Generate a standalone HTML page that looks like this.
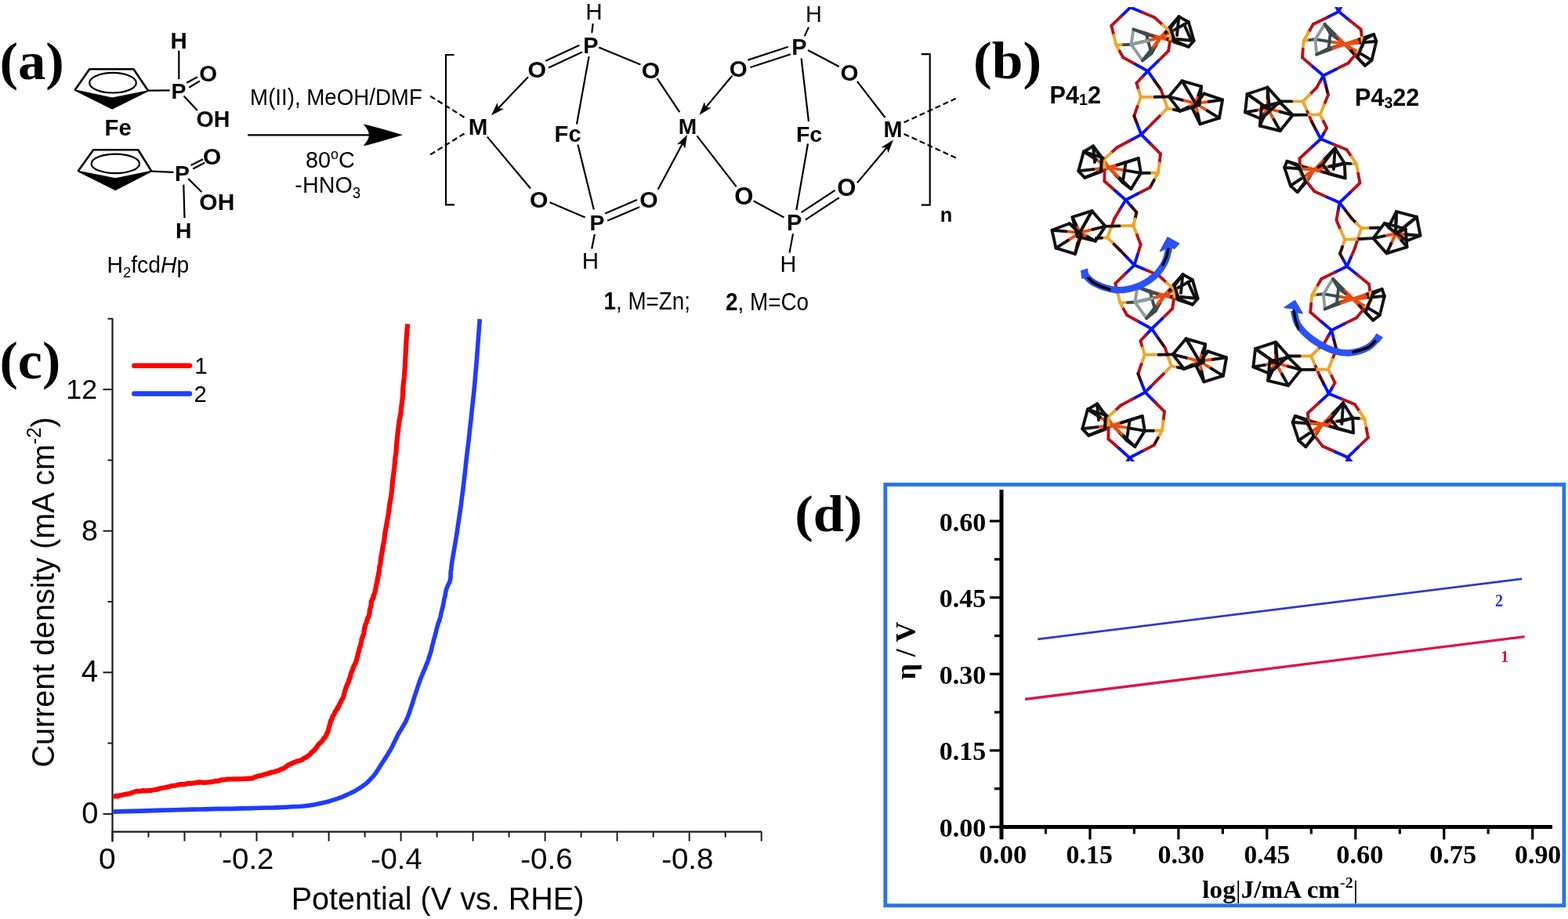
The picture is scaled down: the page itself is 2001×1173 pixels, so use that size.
<!DOCTYPE html>
<html><head><meta charset="utf-8"><style>
html,body{margin:0;padding:0;background:#fff;overflow:hidden;width:2001px;height:1173px;}
svg{display:block;}
</style></head><body>
<svg width="2001" height="1173" viewBox="0 0 2001 1173">
<rect width="2001" height="1173" fill="#fff"/>
<text transform="translate(-0.58,101.28) scale(1.0333,1)" font-size="68.46" fill="#000" font-family="'Liberation Serif', 'Times New Roman', serif" font-weight="bold" font-style="normal"><tspan font-family="'Liberation Serif', 'Times New Roman', serif" font-weight="bold" font-style="normal">(a)</tspan></text>
<path d="M95.5,115.1 L114.2,88.3 L170.5,88.3 L189.2,115.9" stroke="#000" stroke-width="2.6" fill="none" stroke-linejoin="round"/>
<path d="M95.5,115.1 L143.2,138.9 L189.2,115.9 L143.2,125.3 Z" fill="#000" stroke="#000" stroke-width="1.5" stroke-linejoin="round"/>
<ellipse cx="144" cy="105.7" rx="29.8" ry="12.8" fill="none" stroke="#000" stroke-width="2.2"/>
<path d="M99.6,218.6 L119.2,191.3 L176.3,191.3 L193.4,218.6" stroke="#000" stroke-width="2.6" fill="none" stroke-linejoin="round"/>
<path d="M99.6,218.6 L147.3,242.4 L193.4,218.6 L147.3,228 Z" fill="#000" stroke="#000" stroke-width="1.5" stroke-linejoin="round"/>
<ellipse cx="147.3" cy="208.9" rx="30.7" ry="12.3" fill="none" stroke="#000" stroke-width="2.2"/>
<line x1="189.2" y1="115.6" x2="216.7" y2="115.3" stroke="#000" stroke-width="2.2" stroke-linecap="butt"/>
<line x1="228.3" y1="64.6" x2="228.3" y2="101.0" stroke="#000" stroke-width="2.2" stroke-linecap="butt"/>
<line x1="238.2" y1="105.8" x2="251.9" y2="98.3" stroke="#000" stroke-width="2.2" stroke-linecap="butt"/>
<line x1="241.2" y1="111.7" x2="254.9" y2="103.4" stroke="#000" stroke-width="2.2" stroke-linecap="butt"/>
<line x1="234.6" y1="122.5" x2="251.9" y2="141.0" stroke="#000" stroke-width="2.2" stroke-linecap="butt"/>
<line x1="193.4" y1="218.6" x2="221.5" y2="219.8" stroke="#000" stroke-width="2.2" stroke-linecap="butt"/>
<line x1="243.6" y1="210.9" x2="259.0" y2="203.2" stroke="#000" stroke-width="2.2" stroke-linecap="butt"/>
<line x1="246.2" y1="215.6" x2="261.2" y2="207.8" stroke="#000" stroke-width="2.2" stroke-linecap="butt"/>
<line x1="240.2" y1="228.0" x2="257.3" y2="245.0" stroke="#000" stroke-width="2.2" stroke-linecap="butt"/>
<line x1="234.3" y1="235.6" x2="235.5" y2="278.2" stroke="#000" stroke-width="2.2" stroke-linecap="butt"/>
<text transform="translate(217.46,61.60)" font-size="29.42" fill="#000" font-family="'Liberation Sans', Arial, sans-serif" font-weight="bold" font-style="normal"><tspan font-family="'Liberation Sans', Arial, sans-serif" font-weight="bold" font-style="normal">H</tspan></text>
<text transform="translate(218.41,126.00)" font-size="28.41" fill="#000" font-family="'Liberation Sans', Arial, sans-serif" font-weight="bold" font-style="normal"><tspan font-family="'Liberation Sans', Arial, sans-serif" font-weight="bold" font-style="normal">P</tspan></text>
<text transform="translate(254.19,104.31)" font-size="29.44" fill="#000" font-family="'Liberation Sans', Arial, sans-serif" font-weight="bold" font-style="normal"><tspan font-family="'Liberation Sans', Arial, sans-serif" font-weight="bold" font-style="normal">O</tspan></text>
<text transform="translate(250.51,162.21)" font-size="28.59" fill="#000" font-family="'Liberation Sans', Arial, sans-serif" font-weight="bold" font-style="normal"><tspan font-family="'Liberation Sans', Arial, sans-serif" font-weight="bold" font-style="normal">OH</tspan></text>
<text transform="translate(133.50,172.71)" font-size="29.29" fill="#000" font-family="'Liberation Sans', Arial, sans-serif" font-weight="bold" font-style="normal"><tspan font-family="'Liberation Sans', Arial, sans-serif" font-weight="bold" font-style="normal">Fe</tspan></text>
<text transform="translate(258.88,209.70)" font-size="29.86" fill="#000" font-family="'Liberation Sans', Arial, sans-serif" font-weight="bold" font-style="normal"><tspan font-family="'Liberation Sans', Arial, sans-serif" font-weight="bold" font-style="normal">O</tspan></text>
<text transform="translate(223.01,230.50)" font-size="28.41" fill="#000" font-family="'Liberation Sans', Arial, sans-serif" font-weight="bold" font-style="normal"><tspan font-family="'Liberation Sans', Arial, sans-serif" font-weight="bold" font-style="normal">P</tspan></text>
<text transform="translate(254.33,267.70)" font-size="30.00" fill="#000" font-family="'Liberation Sans', Arial, sans-serif" font-weight="bold" font-style="normal"><tspan font-family="'Liberation Sans', Arial, sans-serif" font-weight="bold" font-style="normal">OH</tspan></text>
<text transform="translate(224.07,303.80)" font-size="28.41" fill="#000" font-family="'Liberation Sans', Arial, sans-serif" font-weight="bold" font-style="normal"><tspan font-family="'Liberation Sans', Arial, sans-serif" font-weight="bold" font-style="normal">H</tspan></text>
<text transform="translate(136.53,348.00) scale(0.9641,1)" font-size="29.42" fill="#000" font-family="'Liberation Sans', Arial, sans-serif" font-weight="normal" font-style="normal"><tspan font-family="'Liberation Sans', Arial, sans-serif" font-weight="normal" font-style="normal">H</tspan><tspan font-family="'Liberation Sans', Arial, sans-serif" font-weight="normal" font-style="normal" font-size="19.12" dy="6.47">2</tspan><tspan font-family="'Liberation Sans', Arial, sans-serif" font-weight="normal" font-style="normal" dy="-6.47">fcd</tspan><tspan font-family="'Liberation Sans', Arial, sans-serif" font-weight="normal" font-style="italic">H</tspan><tspan font-family="'Liberation Sans', Arial, sans-serif" font-weight="normal" font-style="normal">p</tspan></text>
<line x1="316.2" y1="172.3" x2="472.0" y2="172.3" stroke="#000" stroke-width="2.2" />
<path d="M514,172.3 C497,167.5 478,161.5 463.6,158.6 C468.5,164 470.8,168 470.8,172.3 C470.8,176.6 468.5,180.6 463.6,186.3 C478,183 497,177 514,172.3 Z" fill="#000"/>
<text transform="translate(319.09,134.30) scale(0.9358,1)" font-size="29.57" fill="#000" font-family="'Liberation Sans', Arial, sans-serif" font-weight="normal" font-style="normal"><tspan font-family="'Liberation Sans', Arial, sans-serif" font-weight="normal" font-style="normal">M(II), MeOH/DMF</tspan></text>
<text transform="translate(389.90,214.40) scale(0.9672,1)" font-size="29.86" fill="#000" font-family="'Liberation Sans', Arial, sans-serif" font-weight="normal" font-style="normal"><tspan font-family="'Liberation Sans', Arial, sans-serif" font-weight="normal" font-style="normal">80</tspan><tspan font-family="'Liberation Sans', Arial, sans-serif" font-weight="normal" font-style="normal" font-size="18.51" dy="-11.35">o</tspan><tspan font-family="'Liberation Sans', Arial, sans-serif" font-weight="normal" font-style="normal" dy="11.35">C</tspan></text>
<text transform="translate(376.31,246.00) scale(0.9678,1)" font-size="29.71" fill="#000" font-family="'Liberation Sans', Arial, sans-serif" font-weight="normal" font-style="normal"><tspan font-family="'Liberation Sans', Arial, sans-serif" font-weight="normal" font-style="normal">-HNO</tspan><tspan font-family="'Liberation Sans', Arial, sans-serif" font-weight="normal" font-style="normal" font-size="19.31" dy="6.54">3</tspan></text>
<path d="M579.5,70.0 L569.0,70.0 L569.0,261.3 L580.0,261.3" stroke="#000" stroke-width="2.2" fill="none" />
<path d="M1175.7,69.2 L1186.7,69.2 L1186.7,261.7 L1175.7,261.7" stroke="#000" stroke-width="2.2" fill="none" />
<line x1="549.2" y1="122.7" x2="595.2" y2="151.4" stroke="#000" stroke-width="2.2" stroke-dasharray="7,4"/>
<line x1="549.2" y1="197.4" x2="595.2" y2="168.8" stroke="#000" stroke-width="2.2" stroke-dasharray="7,4"/>
<line x1="1153.6" y1="156.3" x2="1219.7" y2="125.8" stroke="#000" stroke-width="2.2" stroke-dasharray="7,4"/>
<line x1="1153.6" y1="171.0" x2="1219.7" y2="201.4" stroke="#000" stroke-width="2.2" stroke-dasharray="7,4"/>
<line x1="756.7" y1="30.2" x2="755.3" y2="41.9" stroke="#000" stroke-width="2.2" stroke-linecap="butt"/>
<line x1="696.3" y1="77.7" x2="739.3" y2="57.8" stroke="#000" stroke-width="2.2" stroke-linecap="butt"/>
<line x1="699.9" y1="86.4" x2="742.9" y2="66.5" stroke="#000" stroke-width="2.2" stroke-linecap="butt"/>
<line x1="764.3" y1="60.4" x2="817.5" y2="82.4" stroke="#000" stroke-width="2.2" stroke-linecap="butt"/>
<line x1="674.0" y1="98.2" x2="634.6" y2="139.4" stroke="#000" stroke-width="2.2" stroke-linecap="butt"/>
<path d="M627.0,147.3 L634.6,131.0 L636.0,137.9 L642.9,139.0 Z" fill="#000"/>
<line x1="751.6" y1="72.1" x2="736.0" y2="158.5" stroke="#000" stroke-width="2.2" stroke-linecap="butt"/>
<line x1="737.4" y1="184.5" x2="757.8" y2="267.4" stroke="#000" stroke-width="2.2" stroke-linecap="butt"/>
<line x1="838.6" y1="100.2" x2="867.3" y2="143.2" stroke="#000" stroke-width="2.2" stroke-linecap="butt"/>
<line x1="621.8" y1="174.6" x2="677.0" y2="240.5" stroke="#000" stroke-width="2.2" stroke-linecap="butt"/>
<line x1="701.6" y1="258.2" x2="746.6" y2="277.6" stroke="#000" stroke-width="2.2" stroke-linecap="butt"/>
<line x1="772.2" y1="272.5" x2="813.0" y2="255.1" stroke="#000" stroke-width="2.2" stroke-linecap="butt"/>
<line x1="775.2" y1="281.7" x2="816.1" y2="264.3" stroke="#000" stroke-width="2.2" stroke-linecap="butt"/>
<line x1="839.7" y1="241.8" x2="871.8" y2="181.7" stroke="#000" stroke-width="2.2" stroke-linecap="butt"/>
<path d="M877.0,172.0 L874.1,189.7 L870.9,183.5 L863.9,184.3 Z" fill="#000"/>
<line x1="758.9" y1="299.0" x2="755.2" y2="317.5" stroke="#000" stroke-width="2.2" stroke-linecap="butt"/>
<line x1="1032.0" y1="34.6" x2="1026.7" y2="46.1" stroke="#000" stroke-width="2.2" stroke-linecap="butt"/>
<line x1="954.4" y1="76.6" x2="1005.8" y2="59.8" stroke="#000" stroke-width="2.2" stroke-linecap="butt"/>
<line x1="957.5" y1="86.0" x2="1008.9" y2="69.2" stroke="#000" stroke-width="2.2" stroke-linecap="butt"/>
<line x1="934.5" y1="96.5" x2="899.6" y2="138.4" stroke="#000" stroke-width="2.2" stroke-linecap="butt"/>
<path d="M892.5,146.8 L898.9,130.0 L900.8,136.8 L907.8,137.5 Z" fill="#000"/>
<line x1="1031.0" y1="64.0" x2="1070.8" y2="85.0" stroke="#000" stroke-width="2.2" stroke-linecap="butt"/>
<line x1="1093.9" y1="103.8" x2="1129.5" y2="150.0" stroke="#000" stroke-width="2.2" stroke-linecap="butt"/>
<line x1="1022.6" y1="74.5" x2="1032.0" y2="155.2" stroke="#000" stroke-width="2.2" stroke-linecap="butt"/>
<line x1="1031.0" y1="183.5" x2="1016.3" y2="268.0" stroke="#000" stroke-width="2.2" stroke-linecap="butt"/>
<line x1="889.4" y1="173.3" x2="939.7" y2="238.3" stroke="#000" stroke-width="2.2" stroke-linecap="butt"/>
<line x1="961.7" y1="256.5" x2="1000.5" y2="277.5" stroke="#000" stroke-width="2.2" stroke-linecap="butt"/>
<line x1="1022.6" y1="271.2" x2="1065.6" y2="242.9" stroke="#000" stroke-width="2.2" stroke-linecap="butt"/>
<line x1="1027.8" y1="280.6" x2="1070.8" y2="252.3" stroke="#000" stroke-width="2.2" stroke-linecap="butt"/>
<line x1="1093.9" y1="233.4" x2="1132.9" y2="187.0" stroke="#000" stroke-width="2.2" stroke-linecap="butt"/>
<path d="M1140.0,178.6 L1133.5,195.3 L1131.6,188.5 L1124.6,187.9 Z" fill="#000"/>
<line x1="1012.0" y1="298.4" x2="1007.5" y2="322.6" stroke="#000" stroke-width="2.2" stroke-linecap="butt"/>
<text transform="translate(747.25,25.10)" font-size="29.71" fill="#000" font-family="'Liberation Sans', Arial, sans-serif" font-weight="normal" font-style="normal"><tspan font-family="'Liberation Sans', Arial, sans-serif" font-weight="normal" font-style="normal">H</tspan></text>
<text transform="translate(744.31,67.50)" font-size="28.84" fill="#000" font-family="'Liberation Sans', Arial, sans-serif" font-weight="bold" font-style="normal"><tspan font-family="'Liberation Sans', Arial, sans-serif" font-weight="bold" font-style="normal">P</tspan></text>
<text transform="translate(673.52,98.90)" font-size="30.28" fill="#000" font-family="'Liberation Sans', Arial, sans-serif" font-weight="bold" font-style="normal"><tspan font-family="'Liberation Sans', Arial, sans-serif" font-weight="bold" font-style="normal">O</tspan></text>
<text transform="translate(818.77,99.90)" font-size="30.14" fill="#000" font-family="'Liberation Sans', Arial, sans-serif" font-weight="bold" font-style="normal"><tspan font-family="'Liberation Sans', Arial, sans-serif" font-weight="bold" font-style="normal">O</tspan></text>
<text transform="translate(597.78,171.80)" font-size="29.57" fill="#000" font-family="'Liberation Sans', Arial, sans-serif" font-weight="bold" font-style="normal"><tspan font-family="'Liberation Sans', Arial, sans-serif" font-weight="bold" font-style="normal">M</tspan></text>
<text transform="translate(707.61,180.71)" font-size="29.14" fill="#000" font-family="'Liberation Sans', Arial, sans-serif" font-weight="bold" font-style="normal"><tspan font-family="'Liberation Sans', Arial, sans-serif" font-weight="bold" font-style="normal">Fc</tspan></text>
<text transform="translate(865.83,170.80)" font-size="28.12" fill="#000" font-family="'Liberation Sans', Arial, sans-serif" font-weight="bold" font-style="normal"><tspan font-family="'Liberation Sans', Arial, sans-serif" font-weight="bold" font-style="normal">M</tspan></text>
<text transform="translate(676.07,265.00)" font-size="30.14" fill="#000" font-family="'Liberation Sans', Arial, sans-serif" font-weight="bold" font-style="normal"><tspan font-family="'Liberation Sans', Arial, sans-serif" font-weight="bold" font-style="normal">O</tspan></text>
<text transform="translate(752.51,294.00)" font-size="28.26" fill="#000" font-family="'Liberation Sans', Arial, sans-serif" font-weight="bold" font-style="normal"><tspan font-family="'Liberation Sans', Arial, sans-serif" font-weight="bold" font-style="normal">P</tspan></text>
<text transform="translate(816.22,265.00)" font-size="30.14" fill="#000" font-family="'Liberation Sans', Arial, sans-serif" font-weight="bold" font-style="normal"><tspan font-family="'Liberation Sans', Arial, sans-serif" font-weight="bold" font-style="normal">O</tspan></text>
<text transform="translate(742.66,343.00)" font-size="29.57" fill="#000" font-family="'Liberation Sans', Arial, sans-serif" font-weight="normal" font-style="normal"><tspan font-family="'Liberation Sans', Arial, sans-serif" font-weight="normal" font-style="normal">H</tspan></text>
<text transform="translate(1027.92,28.30)" font-size="28.84" fill="#000" font-family="'Liberation Sans', Arial, sans-serif" font-weight="normal" font-style="normal"><tspan font-family="'Liberation Sans', Arial, sans-serif" font-weight="normal" font-style="normal">H</tspan></text>
<text transform="translate(1010.26,70.30)" font-size="28.99" fill="#000" font-family="'Liberation Sans', Arial, sans-serif" font-weight="bold" font-style="normal"><tspan font-family="'Liberation Sans', Arial, sans-serif" font-weight="bold" font-style="normal">P</tspan></text>
<text transform="translate(930.84,98.30)" font-size="29.58" fill="#000" font-family="'Liberation Sans', Arial, sans-serif" font-weight="bold" font-style="normal"><tspan font-family="'Liberation Sans', Arial, sans-serif" font-weight="bold" font-style="normal">O</tspan></text>
<text transform="translate(1072.44,102.50)" font-size="29.58" fill="#000" font-family="'Liberation Sans', Arial, sans-serif" font-weight="bold" font-style="normal"><tspan font-family="'Liberation Sans', Arial, sans-serif" font-weight="bold" font-style="normal">O</tspan></text>
<text transform="translate(1127.53,175.10)" font-size="28.84" fill="#000" font-family="'Liberation Sans', Arial, sans-serif" font-weight="bold" font-style="normal"><tspan font-family="'Liberation Sans', Arial, sans-serif" font-weight="bold" font-style="normal">M</tspan></text>
<text transform="translate(1015.99,181.12)" font-size="28.43" fill="#000" font-family="'Liberation Sans', Arial, sans-serif" font-weight="bold" font-style="normal"><tspan font-family="'Liberation Sans', Arial, sans-serif" font-weight="bold" font-style="normal">Fc</tspan></text>
<text transform="translate(937.14,261.39)" font-size="30.99" fill="#000" font-family="'Liberation Sans', Arial, sans-serif" font-weight="bold" font-style="normal"><tspan font-family="'Liberation Sans', Arial, sans-serif" font-weight="bold" font-style="normal">O</tspan></text>
<text transform="translate(1004.06,294.20)" font-size="28.84" fill="#000" font-family="'Liberation Sans', Arial, sans-serif" font-weight="bold" font-style="normal"><tspan font-family="'Liberation Sans', Arial, sans-serif" font-weight="bold" font-style="normal">P</tspan></text>
<text transform="translate(1068.24,249.89)" font-size="30.99" fill="#000" font-family="'Liberation Sans', Arial, sans-serif" font-weight="bold" font-style="normal"><tspan font-family="'Liberation Sans', Arial, sans-serif" font-weight="bold" font-style="normal">O</tspan></text>
<text transform="translate(995.42,346.70)" font-size="28.84" fill="#000" font-family="'Liberation Sans', Arial, sans-serif" font-weight="normal" font-style="normal"><tspan font-family="'Liberation Sans', Arial, sans-serif" font-weight="normal" font-style="normal">H</tspan></text>
<text transform="translate(1199.85,282.70)" font-size="25.37" fill="#000" font-family="'Liberation Sans', Arial, sans-serif" font-weight="bold" font-style="normal"><tspan font-family="'Liberation Sans', Arial, sans-serif" font-weight="bold" font-style="normal">n</tspan></text>
<text transform="translate(770.53,395.30) scale(0.9045,1)" font-size="30.72" fill="#000" font-family="'Liberation Sans', Arial, sans-serif" font-weight="bold" font-style="normal"><tspan font-family="'Liberation Sans', Arial, sans-serif" font-weight="bold" font-style="normal">1</tspan><tspan font-family="'Liberation Sans', Arial, sans-serif" font-weight="normal" font-style="normal">, M=Zn;</tspan></text>
<text transform="translate(926.02,395.80) scale(0.8907,1)" font-size="31.30" fill="#000" font-family="'Liberation Sans', Arial, sans-serif" font-weight="bold" font-style="normal"><tspan font-family="'Liberation Sans', Arial, sans-serif" font-weight="bold" font-style="normal">2</tspan><tspan font-family="'Liberation Sans', Arial, sans-serif" font-weight="normal" font-style="normal">, M=Co</tspan></text>
<line x1="143.5" y1="406.2" x2="143.5" y2="1074.5" stroke="#1a1a1a" stroke-width="2.2" />
<line x1="142.4" y1="1061.7" x2="972.0" y2="1061.7" stroke="#1a1a1a" stroke-width="2.2" />
<line x1="131.5" y1="1038.9" x2="143.5" y2="1038.9" stroke="#1a1a1a" stroke-width="2" />
<line x1="137.5" y1="948.6" x2="143.5" y2="948.6" stroke="#1a1a1a" stroke-width="2" />
<line x1="131.5" y1="858.3" x2="143.5" y2="858.3" stroke="#1a1a1a" stroke-width="2" />
<line x1="137.5" y1="768.0" x2="143.5" y2="768.0" stroke="#1a1a1a" stroke-width="2" />
<line x1="131.5" y1="677.7" x2="143.5" y2="677.7" stroke="#1a1a1a" stroke-width="2" />
<line x1="137.5" y1="587.4" x2="143.5" y2="587.4" stroke="#1a1a1a" stroke-width="2" />
<line x1="131.5" y1="497.1" x2="143.5" y2="497.1" stroke="#1a1a1a" stroke-width="2" />
<line x1="137.5" y1="406.8" x2="143.5" y2="406.8" stroke="#1a1a1a" stroke-width="2" />
<line x1="143.5" y1="1061.7" x2="143.5" y2="1073.7" stroke="#1a1a1a" stroke-width="2" />
<line x1="189.5" y1="1061.7" x2="189.5" y2="1068.7" stroke="#1a1a1a" stroke-width="2" />
<line x1="235.5" y1="1061.7" x2="235.5" y2="1073.7" stroke="#1a1a1a" stroke-width="2" />
<line x1="281.5" y1="1061.7" x2="281.5" y2="1068.7" stroke="#1a1a1a" stroke-width="2" />
<line x1="327.5" y1="1061.7" x2="327.5" y2="1073.7" stroke="#1a1a1a" stroke-width="2" />
<line x1="373.6" y1="1061.7" x2="373.6" y2="1068.7" stroke="#1a1a1a" stroke-width="2" />
<line x1="419.6" y1="1061.7" x2="419.6" y2="1073.7" stroke="#1a1a1a" stroke-width="2" />
<line x1="465.6" y1="1061.7" x2="465.6" y2="1068.7" stroke="#1a1a1a" stroke-width="2" />
<line x1="511.6" y1="1061.7" x2="511.6" y2="1073.7" stroke="#1a1a1a" stroke-width="2" />
<line x1="557.6" y1="1061.7" x2="557.6" y2="1068.7" stroke="#1a1a1a" stroke-width="2" />
<line x1="603.6" y1="1061.7" x2="603.6" y2="1073.7" stroke="#1a1a1a" stroke-width="2" />
<line x1="649.6" y1="1061.7" x2="649.6" y2="1068.7" stroke="#1a1a1a" stroke-width="2" />
<line x1="695.6" y1="1061.7" x2="695.6" y2="1073.7" stroke="#1a1a1a" stroke-width="2" />
<line x1="741.6" y1="1061.7" x2="741.6" y2="1068.7" stroke="#1a1a1a" stroke-width="2" />
<line x1="787.6" y1="1061.7" x2="787.6" y2="1073.7" stroke="#1a1a1a" stroke-width="2" />
<line x1="833.7" y1="1061.7" x2="833.7" y2="1068.7" stroke="#1a1a1a" stroke-width="2" />
<line x1="879.7" y1="1061.7" x2="879.7" y2="1073.7" stroke="#1a1a1a" stroke-width="2" />
<line x1="925.7" y1="1061.7" x2="925.7" y2="1068.7" stroke="#1a1a1a" stroke-width="2" />
<line x1="971.7" y1="1061.7" x2="971.7" y2="1073.7" stroke="#1a1a1a" stroke-width="2" />
<text transform="translate(84.32,508.50)" font-size="35.71" fill="#000" font-family="'Liberation Sans', Arial, sans-serif" font-weight="normal" font-style="normal"><tspan font-family="'Liberation Sans', Arial, sans-serif" font-weight="normal" font-style="normal">12</tspan></text>
<text transform="translate(103.91,689.73)" font-size="37.46" fill="#000" font-family="'Liberation Sans', Arial, sans-serif" font-weight="normal" font-style="normal"><tspan font-family="'Liberation Sans', Arial, sans-serif" font-weight="normal" font-style="normal">8</tspan></text>
<text transform="translate(103.83,870.20)" font-size="38.55" fill="#000" font-family="'Liberation Sans', Arial, sans-serif" font-weight="normal" font-style="normal"><tspan font-family="'Liberation Sans', Arial, sans-serif" font-weight="normal" font-style="normal">4</tspan></text>
<text transform="translate(104.18,1050.62)" font-size="38.03" fill="#000" font-family="'Liberation Sans', Arial, sans-serif" font-weight="normal" font-style="normal"><tspan font-family="'Liberation Sans', Arial, sans-serif" font-weight="normal" font-style="normal">0</tspan></text>
<text transform="translate(125.94,1109.20) scale(1.0379,1)" font-size="37.54" fill="#000" font-family="'Liberation Sans', Arial, sans-serif" font-weight="normal" font-style="normal"><tspan font-family="'Liberation Sans', Arial, sans-serif" font-weight="normal" font-style="normal">0</tspan></text>
<text transform="translate(283.27,1109.20) scale(1.0230,1)" font-size="37.54" fill="#000" font-family="'Liberation Sans', Arial, sans-serif" font-weight="normal" font-style="normal"><tspan font-family="'Liberation Sans', Arial, sans-serif" font-weight="normal" font-style="normal">-0.2</tspan></text>
<text transform="translate(473.09,1109.20) scale(1.0122,1)" font-size="37.54" fill="#000" font-family="'Liberation Sans', Arial, sans-serif" font-weight="normal" font-style="normal"><tspan font-family="'Liberation Sans', Arial, sans-serif" font-weight="normal" font-style="normal">-0.4</tspan></text>
<text transform="translate(664.27,1109.20) scale(1.0265,1)" font-size="37.54" fill="#000" font-family="'Liberation Sans', Arial, sans-serif" font-weight="normal" font-style="normal"><tspan font-family="'Liberation Sans', Arial, sans-serif" font-weight="normal" font-style="normal">-0.6</tspan></text>
<text transform="translate(844.17,1109.20) scale(1.0249,1)" font-size="37.54" fill="#000" font-family="'Liberation Sans', Arial, sans-serif" font-weight="normal" font-style="normal"><tspan font-family="'Liberation Sans', Arial, sans-serif" font-weight="normal" font-style="normal">-0.8</tspan></text>
<text transform="translate(371.63,1161.20) scale(0.9929,1)" font-size="39.86" fill="#000" font-family="'Liberation Sans', Arial, sans-serif" font-weight="normal" font-style="normal"><tspan font-family="'Liberation Sans', Arial, sans-serif" font-weight="normal" font-style="normal">Potential (V vs. RHE)</tspan></text>
<text transform="translate(68.60,979.47) rotate(-90) scale(0.9836,1)" font-size="40.14" fill="#000" font-family="'Liberation Sans', Arial, sans-serif" font-weight="normal" font-style="normal"><tspan font-family="'Liberation Sans', Arial, sans-serif" font-weight="normal" font-style="normal">Current density (mA cm</tspan><tspan font-family="'Liberation Sans', Arial, sans-serif" font-weight="normal" font-style="normal" font-size="24.89" dy="-16.86">-2</tspan><tspan font-family="'Liberation Sans', Arial, sans-serif" font-weight="normal" font-style="normal" dy="16.86">)</tspan></text>
<line x1="171.3" y1="466.7" x2="242.0" y2="466.7" stroke="#fe0000" stroke-width="6.5" stroke-linecap="round"/>
<line x1="171.3" y1="502.5" x2="242.0" y2="502.5" stroke="#1f3cff" stroke-width="6.5" stroke-linecap="round"/>
<text transform="translate(248.37,477.00)" font-size="29.71" fill="#000" font-family="'Liberation Sans', Arial, sans-serif" font-weight="normal" font-style="normal"><tspan font-family="'Liberation Sans', Arial, sans-serif" font-weight="normal" font-style="normal">1</tspan></text>
<text transform="translate(247.44,512.70)" font-size="29.14" fill="#000" font-family="'Liberation Sans', Arial, sans-serif" font-weight="normal" font-style="normal"><tspan font-family="'Liberation Sans', Arial, sans-serif" font-weight="normal" font-style="normal">2</tspan></text>
<text transform="translate(-0.55,482.89) scale(1.0389,1)" font-size="67.47" fill="#000" font-family="'Liberation Serif', 'Times New Roman', serif" font-weight="bold" font-style="normal"><tspan font-family="'Liberation Serif', 'Times New Roman', serif" font-weight="bold" font-style="normal">(c)</tspan></text>
<path d="M144.4,1036.1 L158.6,1035.6 L178.7,1035.1 L201.7,1034.4 L224.8,1033.7 L244.9,1033.1 L262.1,1032.9 L278.2,1032.4 L293.4,1032.4 L307.4,1031.9 L320.1,1031.6 L331.3,1031.3 L340.8,1031.0 L349.5,1030.9 L357.3,1030.6 L365.0,1030.2 L371.9,1029.8 L377.8,1029.5 L383.5,1029.3 L389.0,1028.8 L395.0,1027.9 L401.6,1027.0 L408.2,1025.6 L415.1,1024.1 L421.9,1022.2 L428.3,1020.2 L434.3,1018.2 L440.2,1015.6 L446.0,1013.0 L451.6,1010.3 L456.5,1007.4 L460.7,1004.8 L464.5,1002.1 L467.9,999.5 L471.0,996.4 L474.0,993.3 L477.2,989.8 L480.1,985.8 L482.6,981.9 L485.1,977.9 L487.6,974.0 L489.9,970.6 L492.2,966.9 L494.4,963.6 L496.4,960.0 L498.6,956.5 L500.7,952.7 L502.5,948.7 L504.4,944.9 L506.4,940.9 L508.1,937.2 L510.1,933.9 L512.2,930.5 L514.0,927.4 L515.9,924.2 L517.8,921.0 L519.2,917.7 L520.5,914.5 L521.7,911.5 L523.0,907.8 L524.5,903.2 L526.4,897.3 L528.7,890.0 L531.2,882.5 L533.5,875.5 L535.4,869.9 L536.8,866.0 L537.9,863.3 L539.0,860.8 L539.8,858.8 L540.9,856.3 L542.1,853.8 L543.1,851.0 L544.2,848.1 L545.3,845.5 L546.5,842.7 L547.2,840.2 L548.1,837.3 L548.9,834.6 L549.7,832.2 L550.6,829.2 L551.2,825.9 L552.0,822.8 L553.0,819.4 L553.7,815.9 L554.7,812.9 L555.5,809.8 L556.3,806.7 L557.0,803.6 L557.8,800.6 L558.6,797.7 L559.4,795.1 L560.5,792.5 L561.3,790.1 L562.1,787.1 L562.7,784.0 L563.5,780.5 L564.5,776.8 L565.4,772.6 L566.2,768.7 L566.8,765.0 L567.7,761.7 L568.4,758.4 L568.8,755.5 L569.5,752.7 L570.4,750.0 L571.1,748.1 L572.1,746.2 L572.8,744.7 L573.8,743.1 L574.3,740.6 L575.0,737.5 L575.1,734.2 L575.2,730.2 L575.8,725.8 L576.4,720.1 L577.5,713.1 L579.0,704.7 L580.5,695.7 L582.1,686.3 L583.6,676.7 L585.0,667.1 L586.5,656.8 L588.1,646.5 L589.4,635.7 L590.9,624.3 L592.3,612.4 L593.7,600.3 L595.0,587.9 L596.5,575.1 L598.1,562.2 L599.4,549.5 L600.9,536.9 L602.2,523.9 L603.7,510.1 L605.3,495.4 L606.8,477.8 L608.5,457.4 L610.0,437.2 L611.3,419.6 L612.3,407.2" stroke="#1f3cff" stroke-width="5.6" fill="none" stroke-linejoin="round"/>
<path d="M144.5,1016.0 L145.5,1016.4 L147.0,1016.3 L148.7,1015.7 L150.3,1016.3 L152.7,1015.3 L154.7,1015.1 L157.7,1014.2 L161.4,1013.6 L166.1,1012.7 L169.7,1011.4 L174.1,1009.9 L177.8,1009.9 L180.3,1009.6 L183.2,1009.1 L186.3,1009.5 L188.1,1009.2 L191.1,1009.1 L193.7,1008.8 L197.3,1008.0 L200.4,1007.6 L203.2,1006.6 L207.3,1005.8 L210.5,1005.3 L215.3,1004.4 L219.2,1003.0 L224.2,1002.6 L229.7,1001.2 L235.2,1001.1 L240.6,999.9 L244.7,999.9 L249.2,999.3 L252.7,998.4 L256.9,998.6 L259.9,998.9 L264.0,998.6 L267.1,998.3 L270.8,997.9 L274.7,996.9 L278.4,996.9 L281.8,995.6 L285.9,995.2 L289.6,994.7 L294.2,994.5 L299.6,994.4 L305.2,994.3 L310.1,994.2 L314.6,993.9 L318.3,993.6 L321.4,993.6 L322.7,993.1 L324.6,992.2 L325.7,991.8 L326.8,991.5 L328.9,990.5 L332.2,990.1 L335.5,989.1 L339.7,988.0 L343.3,986.8 L346.6,985.7 L349.6,985.4 L352.1,984.2 L353.7,984.2 L356.0,983.5 L356.8,982.6 L358.2,982.1 L359.7,981.4 L361.6,980.9 L364.0,979.5 L365.2,978.7 L367.1,977.1 L368.6,976.0 L370.9,975.2 L372.4,974.4 L374.1,973.5 L376.0,973.1 L377.8,972.1 L379.8,971.6 L381.9,971.1 L383.9,970.4 L385.7,969.7 L387.2,968.2 L389.6,967.0 L391.2,966.4 L392.3,965.3 L394.7,963.7 L396.2,962.4 L397.3,960.6 L399.2,959.2 L401.0,957.5 L402.4,955.9 L404.1,953.9 L405.4,951.4 L407.0,949.8 L408.6,948.3 L410.5,946.3 L411.9,944.7 L413.0,942.6 L414.2,942.0 L414.9,940.7 L415.9,939.0 L416.7,937.8 L416.9,936.2 L418.3,934.2 L418.9,932.6 L419.4,929.7 L420.0,927.5 L420.9,925.1 L421.5,922.3 L421.9,920.3 L423.3,918.2 L424.1,915.9 L424.5,914.1 L426.0,912.5 L427.0,910.3 L427.7,908.7 L428.6,906.8 L429.9,905.3 L430.9,904.5 L431.0,902.5 L432.6,901.3 L433.2,899.0 L433.9,897.8 L434.8,895.7 L435.7,893.8 L437.3,891.6 L438.0,890.0 L438.8,888.2 L438.9,886.3 L439.8,883.4 L440.1,881.7 L441.1,879.5 L441.5,877.6 L442.3,876.2 L442.6,874.5 L443.9,872.3 L444.5,871.2 L445.2,869.1 L445.4,867.2 L446.8,865.1 L447.1,862.4 L448.0,859.4 L448.8,857.5 L449.9,855.0 L450.7,852.1 L451.7,850.0 L452.2,848.9 L453.4,847.1 L453.8,845.6 L454.7,843.5 L455.2,841.0 L455.9,839.1 L456.6,836.8 L456.9,833.8 L458.1,831.2 L458.4,828.8 L458.9,826.6 L460.2,823.7 L460.6,821.3 L461.2,818.9 L461.5,816.2 L462.3,814.3 L463.2,811.1 L464.3,809.1 L464.5,805.5 L465.0,802.5 L465.8,799.6 L466.4,797.1 L467.4,795.3 L468.1,793.0 L468.4,791.7 L468.9,790.2 L469.2,788.8 L470.6,787.1 L470.7,785.6 L471.6,782.6 L471.7,779.5 L472.4,776.4 L473.4,773.4 L473.9,769.7 L473.7,767.9 L474.9,766.0 L475.1,764.5 L475.3,764.6 L476.1,763.8 L476.7,762.2 L476.4,760.6 L477.4,758.8 L478.5,756.2 L479.0,753.3 L479.6,750.0 L479.9,747.4 L480.7,745.0 L481.5,742.3 L481.4,740.4 L482.2,739.1 L482.0,736.9 L482.7,735.6 L482.9,733.4 L483.4,731.4 L483.3,730.5 L484.0,729.2 L484.2,727.2 L484.1,724.1 L485.4,720.2 L485.8,713.7 L487.2,707.0 L488.5,698.5 L490.2,690.3 L491.3,680.5 L492.9,671.9 L494.5,662.7 L496.1,653.8 L497.2,643.7 L499.0,634.0 L500.2,624.1 L500.9,614.9 L502.2,605.6 L503.4,595.5 L504.1,586.3 L505.5,577.3 L506.0,567.2 L507.1,557.9 L508.2,547.3 L509.4,537.8 L511.3,528.3 L512.4,518.2 L513.8,506.8 L514.2,495.8 L515.8,481.5 L516.9,466.4 L517.7,450.4 L518.5,434.9 L519.4,422.4 L520.2,413.4" stroke="#fe0000" stroke-width="6.2" fill="none" stroke-linejoin="round"/>
<rect x="1129.8" y="618.5" width="866.1" height="537.3" fill="none" stroke="#2673ea" stroke-width="4.8"/>
<line x1="1278.0" y1="625.0" x2="1278.0" y2="1071.0" stroke="#000" stroke-width="5" />
<line x1="1275.5" y1="1055.5" x2="1981.0" y2="1055.5" stroke="#000" stroke-width="5" />
<line x1="1263.0" y1="1055.5" x2="1278.0" y2="1055.5" stroke="#000" stroke-width="3.2" />
<line x1="1269.0" y1="1006.7" x2="1278.0" y2="1006.7" stroke="#000" stroke-width="3.2" />
<line x1="1263.0" y1="957.9" x2="1278.0" y2="957.9" stroke="#000" stroke-width="3.2" />
<line x1="1269.0" y1="909.1" x2="1278.0" y2="909.1" stroke="#000" stroke-width="3.2" />
<line x1="1263.0" y1="860.3" x2="1278.0" y2="860.3" stroke="#000" stroke-width="3.2" />
<line x1="1269.0" y1="811.5" x2="1278.0" y2="811.5" stroke="#000" stroke-width="3.2" />
<line x1="1263.0" y1="762.7" x2="1278.0" y2="762.7" stroke="#000" stroke-width="3.2" />
<line x1="1269.0" y1="713.9" x2="1278.0" y2="713.9" stroke="#000" stroke-width="3.2" />
<line x1="1263.0" y1="665.1" x2="1278.0" y2="665.1" stroke="#000" stroke-width="3.2" />
<line x1="1278.0" y1="1055.5" x2="1278.0" y2="1071.5" stroke="#000" stroke-width="3.2" />
<line x1="1334.5" y1="1055.5" x2="1334.5" y2="1064.5" stroke="#000" stroke-width="3.2" />
<line x1="1391.0" y1="1055.5" x2="1391.0" y2="1071.5" stroke="#000" stroke-width="3.2" />
<line x1="1447.4" y1="1055.5" x2="1447.4" y2="1064.5" stroke="#000" stroke-width="3.2" />
<line x1="1503.9" y1="1055.5" x2="1503.9" y2="1071.5" stroke="#000" stroke-width="3.2" />
<line x1="1560.4" y1="1055.5" x2="1560.4" y2="1064.5" stroke="#000" stroke-width="3.2" />
<line x1="1616.8" y1="1055.5" x2="1616.8" y2="1071.5" stroke="#000" stroke-width="3.2" />
<line x1="1673.3" y1="1055.5" x2="1673.3" y2="1064.5" stroke="#000" stroke-width="3.2" />
<line x1="1729.8" y1="1055.5" x2="1729.8" y2="1071.5" stroke="#000" stroke-width="3.2" />
<line x1="1786.3" y1="1055.5" x2="1786.3" y2="1064.5" stroke="#000" stroke-width="3.2" />
<line x1="1842.8" y1="1055.5" x2="1842.8" y2="1071.5" stroke="#000" stroke-width="3.2" />
<line x1="1899.2" y1="1055.5" x2="1899.2" y2="1064.5" stroke="#000" stroke-width="3.2" />
<line x1="1955.7" y1="1055.5" x2="1955.7" y2="1071.5" stroke="#000" stroke-width="3.2" />
<text transform="translate(1198.63,677.58) scale(0.9869,1)" font-size="34.59" fill="#000" font-family="'Liberation Serif', 'Times New Roman', serif" font-weight="bold" font-style="normal"><tspan font-family="'Liberation Serif', 'Times New Roman', serif" font-weight="bold" font-style="normal">0.60</tspan></text>
<text transform="translate(1198.64,775.18) scale(0.9839,1)" font-size="34.59" fill="#000" font-family="'Liberation Serif', 'Times New Roman', serif" font-weight="bold" font-style="normal"><tspan font-family="'Liberation Serif', 'Times New Roman', serif" font-weight="bold" font-style="normal">0.45</tspan></text>
<text transform="translate(1198.63,872.79) scale(0.9869,1)" font-size="34.59" fill="#000" font-family="'Liberation Serif', 'Times New Roman', serif" font-weight="bold" font-style="normal"><tspan font-family="'Liberation Serif', 'Times New Roman', serif" font-weight="bold" font-style="normal">0.30</tspan></text>
<text transform="translate(1198.64,970.39) scale(0.9839,1)" font-size="34.59" fill="#000" font-family="'Liberation Serif', 'Times New Roman', serif" font-weight="bold" font-style="normal"><tspan font-family="'Liberation Serif', 'Times New Roman', serif" font-weight="bold" font-style="normal">0.15</tspan></text>
<text transform="translate(1198.63,1068.00) scale(0.9869,1)" font-size="34.59" fill="#000" font-family="'Liberation Serif', 'Times New Roman', serif" font-weight="bold" font-style="normal"><tspan font-family="'Liberation Serif', 'Times New Roman', serif" font-weight="bold" font-style="normal">0.00</tspan></text>
<text transform="translate(1249.61,1102.00) scale(1.0265,1)" font-size="33.83" fill="#000" font-family="'Liberation Serif', 'Times New Roman', serif" font-weight="bold" font-style="normal"><tspan font-family="'Liberation Serif', 'Times New Roman', serif" font-weight="bold" font-style="normal">0.00</tspan></text>
<text transform="translate(1360.54,1102.00) scale(1.0058,1)" font-size="33.83" fill="#000" font-family="'Liberation Serif', 'Times New Roman', serif" font-weight="bold" font-style="normal"><tspan font-family="'Liberation Serif', 'Times New Roman', serif" font-weight="bold" font-style="normal">0.15</tspan></text>
<text transform="translate(1477.54,1102.00) scale(1.0070,1)" font-size="33.83" fill="#000" font-family="'Liberation Serif', 'Times New Roman', serif" font-weight="bold" font-style="normal"><tspan font-family="'Liberation Serif', 'Times New Roman', serif" font-weight="bold" font-style="normal">0.30</tspan></text>
<text transform="translate(1587.56,1102.00) scale(0.9934,1)" font-size="33.83" fill="#000" font-family="'Liberation Serif', 'Times New Roman', serif" font-weight="bold" font-style="normal"><tspan font-family="'Liberation Serif', 'Times New Roman', serif" font-weight="bold" font-style="normal">0.45</tspan></text>
<text transform="translate(1705.22,1102.00) scale(1.0176,1)" font-size="33.83" fill="#000" font-family="'Liberation Serif', 'Times New Roman', serif" font-weight="bold" font-style="normal"><tspan font-family="'Liberation Serif', 'Times New Roman', serif" font-weight="bold" font-style="normal">0.60</tspan></text>
<text transform="translate(1824.13,1102.00) scale(1.0146,1)" font-size="33.83" fill="#000" font-family="'Liberation Serif', 'Times New Roman', serif" font-weight="bold" font-style="normal"><tspan font-family="'Liberation Serif', 'Times New Roman', serif" font-weight="bold" font-style="normal">0.75</tspan></text>
<text transform="translate(1933.05,1102.00)" font-size="33.83" fill="#000" font-family="'Liberation Serif', 'Times New Roman', serif" font-weight="bold" font-style="normal"><tspan font-family="'Liberation Serif', 'Times New Roman', serif" font-weight="bold" font-style="normal">0.90</tspan></text>
<text transform="translate(1534.34,1145.50) scale(1.0730,1)" font-size="30.94" fill="#000" font-family="'Liberation Serif', 'Times New Roman', serif" font-weight="bold" font-style="normal"><tspan font-family="'Liberation Serif', 'Times New Roman', serif" font-weight="bold" font-style="normal">log</tspan><tspan font-family="'Liberation Serif', 'Times New Roman', serif" font-weight="normal" font-style="normal" font-size="32.48">|</tspan><tspan font-family="'Liberation Serif', 'Times New Roman', serif" font-weight="bold" font-style="normal">J/mA cm</tspan><tspan font-family="'Liberation Serif', 'Times New Roman', serif" font-weight="bold" font-style="normal" font-size="18.56" dy="-12.37">-2</tspan><tspan font-family="'Liberation Serif', 'Times New Roman', serif" font-weight="normal" font-style="normal" font-size="32.48" dy="12.37">|</tspan></text>
<text transform="translate(1168.40,867.54) rotate(-90) scale(0.9807,1)" font-size="36.49" fill="#000" font-family="'Liberation Serif', 'Times New Roman', serif" font-weight="bold" font-style="normal"><tspan font-family="'Liberation Serif', 'Times New Roman', serif" font-weight="bold" font-style="normal">η / V</tspan></text>
<text transform="translate(1014.33,678.32) scale(1.0690,1)" font-size="65.93" fill="#000" font-family="'Liberation Serif', 'Times New Roman', serif" font-weight="bold" font-style="normal"><tspan font-family="'Liberation Serif', 'Times New Roman', serif" font-weight="bold" font-style="normal">(d)</tspan></text>
<line x1="1308.1" y1="892.5" x2="1945.6" y2="812.6" stroke="#dc1646" stroke-width="3.4" />
<line x1="1324.3" y1="815.8" x2="1942.2" y2="738.9" stroke="#2a3bd0" stroke-width="2.8" />
<text transform="translate(1908.09,774.20) scale(0.8673,1)" font-size="23.33" fill="#2a3bd0" font-family="'Liberation Serif', 'Times New Roman', serif" font-weight="bold" font-style="normal"><tspan font-family="'Liberation Serif', 'Times New Roman', serif" font-weight="bold" font-style="normal">2</tspan></text>
<text transform="translate(1914.94,845.00) scale(0.9473,1)" font-size="21.97" fill="#dc1646" font-family="'Liberation Serif', 'Times New Roman', serif" font-weight="bold" font-style="normal"><tspan font-family="'Liberation Serif', 'Times New Roman', serif" font-weight="bold" font-style="normal">1</tspan></text>
<text transform="translate(1242.09,100.09) scale(1.0577,1)" font-size="67.47" fill="#000" font-family="'Liberation Serif', 'Times New Roman', serif" font-weight="bold" font-style="normal"><tspan font-family="'Liberation Serif', 'Times New Roman', serif" font-weight="bold" font-style="normal">(b)</tspan></text>
<defs><clipPath id="cb"><rect x="1230" y="9" width="700" height="580"/></clipPath></defs>
<g clip-path="url(#cb)" stroke-width="3.9" stroke-linecap="round" stroke-linejoin="round" fill="none">
<g transform="translate(-5.00,-329.00)"><path d="M1481.0,48.0 L1463.8,42.8" stroke="#ee4a10"/>
<path d="M1463.8,42.8 L1446.5,37.5" stroke="#3c4c4c"/>
<path d="M1481.0,48.0 L1472.0,46.1" stroke="#ee4a10"/>
<path d="M1472.0,46.1 L1463.0,44.3" stroke="#3c4c4c"/>
<path d="M1481.0,48.0 L1475.2,58.1" stroke="#ee4a10"/>
<path d="M1475.2,58.1 L1469.5,68.2" stroke="#3c4c4c"/>
<path d="M1481.0,48.0 L1469.5,62.6" stroke="#ee4a10"/>
<path d="M1469.5,62.6 L1458.0,77.2" stroke="#3c4c4c"/>
<path d="M1481.0,48.0 L1462.2,52.4" stroke="#ee4a10"/>
<path d="M1462.2,52.4 L1443.5,56.7" stroke="#3c4c4c"/>
<path d="M1481.0,48.0 L1492.7,34.6" stroke="#ee4a10"/>
<path d="M1492.7,34.6 L1504.4,21.3" stroke="#111111"/>
<path d="M1481.0,48.0 L1498.9,38.0" stroke="#ee4a10"/>
<path d="M1498.9,38.0 L1516.8,28.1" stroke="#111111"/>
<path d="M1481.0,48.0 L1502.3,50.0" stroke="#ee4a10"/>
<path d="M1502.3,50.0 L1523.6,52.0" stroke="#111111"/>
<path d="M1481.0,48.0 L1498.9,53.9" stroke="#ee4a10"/>
<path d="M1498.9,53.9 L1516.8,59.7" stroke="#111111"/>
<path d="M1481.0,48.0 L1490.0,50.0" stroke="#ee4a10"/>
<path d="M1490.0,50.0 L1499.0,52.0" stroke="#111111"/>
<path d="M1481.0,48.0 L1487.4,41.9" stroke="#ee4a10"/>
<path d="M1487.4,41.9 L1493.8,35.8" stroke="#111111"/>
<path d="M1525.6,131.9 L1508.6,127.7" stroke="#ee4a10"/>
<path d="M1508.6,127.7 L1491.6,123.4" stroke="#111111"/>
<path d="M1525.6,131.9 L1517.1,117.6" stroke="#ee4a10"/>
<path d="M1517.1,117.6 L1508.6,103.3" stroke="#111111"/>
<path d="M1525.6,131.9 L1529.4,121.2" stroke="#ee4a10"/>
<path d="M1529.4,121.2 L1533.2,110.4" stroke="#111111"/>
<path d="M1525.6,131.9 L1528.0,132.8" stroke="#ee4a10"/>
<path d="M1528.0,132.8 L1530.5,133.7" stroke="#111111"/>
<path d="M1525.6,131.9 L1515.8,136.9" stroke="#ee4a10"/>
<path d="M1515.8,136.9 L1505.9,141.8" stroke="#111111"/>
<path d="M1525.6,131.9 L1531.0,125.7" stroke="#ee4a10"/>
<path d="M1531.0,125.7 L1536.4,119.4" stroke="#111111"/>
<path d="M1525.6,131.9 L1542.8,129.7" stroke="#ee4a10"/>
<path d="M1542.8,129.7 L1560.1,127.4" stroke="#111111"/>
<path d="M1525.6,131.9 L1540.8,141.3" stroke="#ee4a10"/>
<path d="M1540.8,141.3 L1556.0,150.7" stroke="#111111"/>
<path d="M1525.6,131.9 L1528.5,145.1" stroke="#ee4a10"/>
<path d="M1528.5,145.1 L1531.4,158.3" stroke="#111111"/>
<path d="M1525.6,131.9 L1523.8,135.5" stroke="#ee4a10"/>
<path d="M1523.8,135.5 L1522.0,139.1" stroke="#111111"/>
<path d="M1414.8,213.8 L1435.3,217.4" stroke="#ee4a10"/>
<path d="M1435.3,217.4 L1455.9,220.9" stroke="#111111"/>
<path d="M1414.8,213.8 L1433.8,207.9" stroke="#ee4a10"/>
<path d="M1433.8,207.9 L1452.8,202.1" stroke="#111111"/>
<path d="M1414.8,213.8 L1425.8,210.7" stroke="#ee4a10"/>
<path d="M1425.8,210.7 L1436.7,207.5" stroke="#111111"/>
<path d="M1414.8,213.8 L1423.8,223.4" stroke="#ee4a10"/>
<path d="M1423.8,223.4 L1432.7,233.0" stroke="#111111"/>
<path d="M1414.8,213.8 L1429.1,227.4" stroke="#ee4a10"/>
<path d="M1429.1,227.4 L1443.4,241.1" stroke="#111111"/>
<path d="M1414.8,213.8 L1404.9,200.2" stroke="#ee4a10"/>
<path d="M1404.9,200.2 L1395.0,186.5" stroke="#111111"/>
<path d="M1414.8,213.8 L1398.9,203.7" stroke="#ee4a10"/>
<path d="M1398.9,203.7 L1383.0,193.6" stroke="#111111"/>
<path d="M1414.8,213.8 L1395.5,216.1" stroke="#ee4a10"/>
<path d="M1395.5,216.1 L1376.3,218.3" stroke="#111111"/>
<path d="M1414.8,213.8 L1399.5,220.3" stroke="#ee4a10"/>
<path d="M1399.5,220.3 L1384.3,226.8" stroke="#111111"/>
<path d="M1414.8,213.8 L1409.8,216.4" stroke="#ee4a10"/>
<path d="M1409.8,216.4 L1404.9,219.1" stroke="#111111"/>
<path d="M1414.8,213.8 L1410.3,207.3" stroke="#ee4a10"/>
<path d="M1410.3,207.3 L1405.8,200.8" stroke="#111111"/>
<path d="M1378.3,296.9 L1373.4,287.0" stroke="#ee4a10"/>
<path d="M1373.4,287.0 L1368.5,277.2" stroke="#111111"/>
<path d="M1378.3,296.9 L1385.9,283.0" stroke="#ee4a10"/>
<path d="M1385.9,283.0 L1393.5,269.2" stroke="#111111"/>
<path d="M1378.3,296.9 L1394.4,292.9" stroke="#ee4a10"/>
<path d="M1394.4,292.9 L1410.6,288.9" stroke="#111111"/>
<path d="M1378.3,296.9 L1388.2,302.3" stroke="#ee4a10"/>
<path d="M1388.2,302.3 L1398.0,307.7" stroke="#111111"/>
<path d="M1378.3,296.9 L1376.7,299.4" stroke="#ee4a10"/>
<path d="M1376.7,299.4 L1375.0,302.0" stroke="#111111"/>
<path d="M1378.3,296.9 L1360.4,295.4" stroke="#ee4a10"/>
<path d="M1360.4,295.4 L1342.5,293.8" stroke="#111111"/>
<path d="M1378.3,296.9 L1371.6,291.1" stroke="#ee4a10"/>
<path d="M1371.6,291.1 L1364.9,285.3" stroke="#111111"/>
<path d="M1378.3,296.9 L1379.2,298.4" stroke="#ee4a10"/>
<path d="M1379.2,298.4 L1380.0,300.0" stroke="#111111"/>
<path d="M1378.3,296.9 L1375.2,310.5" stroke="#ee4a10"/>
<path d="M1375.2,310.5 L1372.0,324.2" stroke="#111111"/>
<path d="M1378.3,296.9 L1362.9,306.8" stroke="#ee4a10"/>
<path d="M1362.9,306.8 L1347.5,316.6" stroke="#111111"/>
<path d="M1442.6,9.4 L1430.4,21.1" stroke="#0a14f6"/>
<path d="M1430.4,21.1 L1418.3,32.8" stroke="#b8101a"/>
<path d="M1418.3,32.8 L1421.4,45.1" stroke="#b8101a"/>
<path d="M1421.4,45.1 L1424.5,57.5" stroke="#eea52c"/>
<path d="M1424.5,57.5 L1428.8,65.4" stroke="#eea52c"/>
<path d="M1428.8,65.4 L1433.2,73.3" stroke="#b8101a"/>
<path d="M1433.2,73.3 L1449.0,82.0" stroke="#b8101a"/>
<path d="M1449.0,82.0 L1464.8,90.7" stroke="#0a14f6"/>
<path d="M1442.6,9.4 L1457.9,15.8" stroke="#0a14f6"/>
<path d="M1457.9,15.8 L1473.3,22.2" stroke="#b8101a"/>
<path d="M1473.3,22.2 L1483.9,31.9" stroke="#b8101a"/>
<path d="M1483.9,31.9 L1494.6,41.5" stroke="#eea52c"/>
<path d="M1494.6,41.5 L1492.9,53.1" stroke="#eea52c"/>
<path d="M1492.9,53.1 L1491.2,64.8" stroke="#b8101a"/>
<path d="M1491.2,64.8 L1478.0,77.8" stroke="#b8101a"/>
<path d="M1478.0,77.8 L1464.8,90.7" stroke="#0a14f6"/>
<path d="M1464.8,90.7 L1457.6,98.3" stroke="#0a14f6"/>
<path d="M1457.6,98.3 L1450.4,106.0" stroke="#b8101a"/>
<path d="M1450.4,106.0 L1453.1,115.0" stroke="#b8101a"/>
<path d="M1453.1,115.0 L1455.8,123.9" stroke="#eea52c"/>
<path d="M1455.8,123.9 L1451.5,135.9" stroke="#eea52c"/>
<path d="M1451.5,135.9 L1447.3,148.0" stroke="#b8101a"/>
<path d="M1447.3,148.0 L1451.8,159.8" stroke="#3c0808"/>
<path d="M1451.8,159.8 L1456.4,171.7" stroke="#0a14f6"/>
<path d="M1464.8,90.7 L1473.3,102.8" stroke="#0a14f6"/>
<path d="M1473.3,102.8 L1481.8,114.9" stroke="#3c0808"/>
<path d="M1481.8,114.9 L1485.8,126.5" stroke="#b8101a"/>
<path d="M1485.8,126.5 L1489.8,138.2" stroke="#eea52c"/>
<path d="M1489.8,138.2 L1479.9,148.1" stroke="#eea52c"/>
<path d="M1479.9,148.1 L1470.1,157.9" stroke="#b8101a"/>
<path d="M1470.1,157.9 L1463.2,164.8" stroke="#b8101a"/>
<path d="M1463.2,164.8 L1456.4,171.7" stroke="#0a14f6"/>
<path d="M1456.4,171.7 L1441.0,180.0" stroke="#0a14f6"/>
<path d="M1441.0,180.0 L1425.5,188.3" stroke="#b8101a"/>
<path d="M1425.5,188.3 L1417.7,195.4" stroke="#b8101a"/>
<path d="M1417.7,195.4 L1409.8,202.6" stroke="#eea52c"/>
<path d="M1409.8,202.6 L1409.6,216.9" stroke="#eea52c"/>
<path d="M1409.6,216.9 L1409.4,231.2" stroke="#b8101a"/>
<path d="M1409.4,231.2 L1423.0,243.2" stroke="#b8101a"/>
<path d="M1423.0,243.2 L1436.5,255.3" stroke="#0a14f6"/>
<path d="M1456.4,171.7 L1468.7,184.0" stroke="#0a14f6"/>
<path d="M1468.7,184.0 L1481.0,196.3" stroke="#b8101a"/>
<path d="M1481.0,196.3 L1479.5,208.4" stroke="#b8101a"/>
<path d="M1479.5,208.4 L1477.9,220.5" stroke="#eea52c"/>
<path d="M1477.9,220.5 L1472.8,229.9" stroke="#eea52c"/>
<path d="M1472.8,229.9 L1467.6,239.3" stroke="#3c0808"/>
<path d="M1467.6,239.3 L1452.0,247.3" stroke="#b8101a"/>
<path d="M1452.0,247.3 L1436.5,255.3" stroke="#0a14f6"/>
<path d="M1436.5,255.3 L1429.3,267.1" stroke="#0a14f6"/>
<path d="M1429.3,267.1 L1422.2,279.0" stroke="#b8101a"/>
<path d="M1422.2,279.0 L1417.7,291.1" stroke="#b8101a"/>
<path d="M1417.7,291.1 L1413.2,303.2" stroke="#eea52c"/>
<path d="M1413.2,303.2 L1421.6,311.6" stroke="#eea52c"/>
<path d="M1421.6,311.6 L1430.0,320.0" stroke="#3c0808"/>
<path d="M1430.0,320.0 L1438.8,329.2" stroke="#3c0808"/>
<path d="M1438.8,329.2 L1447.6,338.4" stroke="#0a14f6"/>
<path d="M1436.5,255.3 L1443.5,263.1" stroke="#0a14f6"/>
<path d="M1443.5,263.1 L1450.4,271.0" stroke="#3c0808"/>
<path d="M1450.4,271.0 L1448.4,279.5" stroke="#3c0808"/>
<path d="M1448.4,279.5 L1446.4,288.0" stroke="#eea52c"/>
<path d="M1446.4,288.0 L1451.1,300.1" stroke="#eea52c"/>
<path d="M1451.1,300.1 L1455.7,312.1" stroke="#b8101a"/>
<path d="M1455.7,312.1 L1451.7,325.2" stroke="#b8101a"/>
<path d="M1451.7,325.2 L1447.6,338.4" stroke="#0a14f6"/>
<path d="M1424.5,57.5 L1434.0,57.1" stroke="#eea52c"/>
<path d="M1434.0,57.1 L1443.5,56.7" stroke="#3c4c4c"/>
<path d="M1494.6,41.5 L1496.8,46.8" stroke="#eea52c"/>
<path d="M1496.8,46.8 L1499.0,52.0" stroke="#111111"/>
<path d="M1455.8,123.9 L1473.7,123.7" stroke="#eea52c"/>
<path d="M1473.7,123.7 L1491.6,123.4" stroke="#111111"/>
<path d="M1489.8,138.2 L1497.9,139.8" stroke="#eea52c"/>
<path d="M1497.9,139.8 L1506.0,141.5" stroke="#111111"/>
<path d="M1477.9,220.5 L1466.9,220.7" stroke="#eea52c"/>
<path d="M1466.9,220.7 L1455.9,220.9" stroke="#111111"/>
<path d="M1409.8,202.6 L1407.8,201.7" stroke="#eea52c"/>
<path d="M1407.8,201.7 L1405.8,200.8" stroke="#111111"/>
<path d="M1446.4,288.0 L1428.5,288.4" stroke="#eea52c"/>
<path d="M1428.5,288.4 L1410.6,288.9" stroke="#111111"/>
<path d="M1413.2,303.2 L1406.1,303.6" stroke="#eea52c"/>
<path d="M1406.1,303.6 L1398.9,304.0" stroke="#111111"/>
<path d="M1446.5,37.5 L1443.5,56.7 L1458,77.2" stroke="#8c9c9c" fill="none"/>
<path d="M1446.5,37.5 L1463,44.3 L1469.5,68.2 L1458,77.2" stroke="#3c4c4c" fill="none"/>
<path d="M1443.5,56.7 L1465.6,52" stroke="#8c9c9c" fill="none"/>
<path d="M1504.4,21.3 L1516.8,28.1 L1523.6,52.0 L1516.8,59.7 L1499.0,52.0 L1493.8,35.8 Z" stroke="#111111" fill="none"/>
<path d="M1491.6,123.4 L1508.6,103.3 L1533.2,110.4 L1530.5,133.7 L1505.9,141.8 Z" stroke="#111111" fill="none"/>
<path d="M1536.4,119.4 L1560.1,127.4 L1556.0,150.7 L1531.4,158.3 L1522.0,139.1 Z" stroke="#111111" fill="none"/>
<path d="M1455.9,220.9 L1452.8,202.1 L1436.7,207.5 L1432.7,233.0 L1443.4,241.1 Z" stroke="#111111" fill="none"/>
<path d="M1395.0,186.5 L1383.0,193.6 L1376.3,218.3 L1384.3,226.8 L1404.9,219.1 L1405.8,200.8 Z" stroke="#111111" fill="none"/>
<path d="M1368.5,277.2 L1393.5,269.2 L1410.6,288.9 L1398.0,307.7 L1375.0,302.0 Z" stroke="#111111" fill="none"/>
<path d="M1342.5,293.8 L1364.9,285.3 L1380.0,300.0 L1372.0,324.2 L1347.5,316.6 Z" stroke="#111111" fill="none"/>
<path d="M1504.4,21.3 L1502,45 M1511,31 L1520,51 M1508.6,103.3 L1525.6,131.9 M1395,186.5 L1397,207 M1383,193.6 L1405.8,200.8 M1393.5,269.2 L1378,297" stroke="#111" fill="none"/></g>
<g transform="translate(0.00,0.00)"><path d="M1481.0,48.0 L1463.8,42.8" stroke="#ee4a10"/>
<path d="M1463.8,42.8 L1446.5,37.5" stroke="#3c4c4c"/>
<path d="M1481.0,48.0 L1472.0,46.1" stroke="#ee4a10"/>
<path d="M1472.0,46.1 L1463.0,44.3" stroke="#3c4c4c"/>
<path d="M1481.0,48.0 L1475.2,58.1" stroke="#ee4a10"/>
<path d="M1475.2,58.1 L1469.5,68.2" stroke="#3c4c4c"/>
<path d="M1481.0,48.0 L1469.5,62.6" stroke="#ee4a10"/>
<path d="M1469.5,62.6 L1458.0,77.2" stroke="#3c4c4c"/>
<path d="M1481.0,48.0 L1462.2,52.4" stroke="#ee4a10"/>
<path d="M1462.2,52.4 L1443.5,56.7" stroke="#3c4c4c"/>
<path d="M1481.0,48.0 L1492.7,34.6" stroke="#ee4a10"/>
<path d="M1492.7,34.6 L1504.4,21.3" stroke="#111111"/>
<path d="M1481.0,48.0 L1498.9,38.0" stroke="#ee4a10"/>
<path d="M1498.9,38.0 L1516.8,28.1" stroke="#111111"/>
<path d="M1481.0,48.0 L1502.3,50.0" stroke="#ee4a10"/>
<path d="M1502.3,50.0 L1523.6,52.0" stroke="#111111"/>
<path d="M1481.0,48.0 L1498.9,53.9" stroke="#ee4a10"/>
<path d="M1498.9,53.9 L1516.8,59.7" stroke="#111111"/>
<path d="M1481.0,48.0 L1490.0,50.0" stroke="#ee4a10"/>
<path d="M1490.0,50.0 L1499.0,52.0" stroke="#111111"/>
<path d="M1481.0,48.0 L1487.4,41.9" stroke="#ee4a10"/>
<path d="M1487.4,41.9 L1493.8,35.8" stroke="#111111"/>
<path d="M1525.6,131.9 L1508.6,127.7" stroke="#ee4a10"/>
<path d="M1508.6,127.7 L1491.6,123.4" stroke="#111111"/>
<path d="M1525.6,131.9 L1517.1,117.6" stroke="#ee4a10"/>
<path d="M1517.1,117.6 L1508.6,103.3" stroke="#111111"/>
<path d="M1525.6,131.9 L1529.4,121.2" stroke="#ee4a10"/>
<path d="M1529.4,121.2 L1533.2,110.4" stroke="#111111"/>
<path d="M1525.6,131.9 L1528.0,132.8" stroke="#ee4a10"/>
<path d="M1528.0,132.8 L1530.5,133.7" stroke="#111111"/>
<path d="M1525.6,131.9 L1515.8,136.9" stroke="#ee4a10"/>
<path d="M1515.8,136.9 L1505.9,141.8" stroke="#111111"/>
<path d="M1525.6,131.9 L1531.0,125.7" stroke="#ee4a10"/>
<path d="M1531.0,125.7 L1536.4,119.4" stroke="#111111"/>
<path d="M1525.6,131.9 L1542.8,129.7" stroke="#ee4a10"/>
<path d="M1542.8,129.7 L1560.1,127.4" stroke="#111111"/>
<path d="M1525.6,131.9 L1540.8,141.3" stroke="#ee4a10"/>
<path d="M1540.8,141.3 L1556.0,150.7" stroke="#111111"/>
<path d="M1525.6,131.9 L1528.5,145.1" stroke="#ee4a10"/>
<path d="M1528.5,145.1 L1531.4,158.3" stroke="#111111"/>
<path d="M1525.6,131.9 L1523.8,135.5" stroke="#ee4a10"/>
<path d="M1523.8,135.5 L1522.0,139.1" stroke="#111111"/>
<path d="M1414.8,213.8 L1435.3,217.4" stroke="#ee4a10"/>
<path d="M1435.3,217.4 L1455.9,220.9" stroke="#111111"/>
<path d="M1414.8,213.8 L1433.8,207.9" stroke="#ee4a10"/>
<path d="M1433.8,207.9 L1452.8,202.1" stroke="#111111"/>
<path d="M1414.8,213.8 L1425.8,210.7" stroke="#ee4a10"/>
<path d="M1425.8,210.7 L1436.7,207.5" stroke="#111111"/>
<path d="M1414.8,213.8 L1423.8,223.4" stroke="#ee4a10"/>
<path d="M1423.8,223.4 L1432.7,233.0" stroke="#111111"/>
<path d="M1414.8,213.8 L1429.1,227.4" stroke="#ee4a10"/>
<path d="M1429.1,227.4 L1443.4,241.1" stroke="#111111"/>
<path d="M1414.8,213.8 L1404.9,200.2" stroke="#ee4a10"/>
<path d="M1404.9,200.2 L1395.0,186.5" stroke="#111111"/>
<path d="M1414.8,213.8 L1398.9,203.7" stroke="#ee4a10"/>
<path d="M1398.9,203.7 L1383.0,193.6" stroke="#111111"/>
<path d="M1414.8,213.8 L1395.5,216.1" stroke="#ee4a10"/>
<path d="M1395.5,216.1 L1376.3,218.3" stroke="#111111"/>
<path d="M1414.8,213.8 L1399.5,220.3" stroke="#ee4a10"/>
<path d="M1399.5,220.3 L1384.3,226.8" stroke="#111111"/>
<path d="M1414.8,213.8 L1409.8,216.4" stroke="#ee4a10"/>
<path d="M1409.8,216.4 L1404.9,219.1" stroke="#111111"/>
<path d="M1414.8,213.8 L1410.3,207.3" stroke="#ee4a10"/>
<path d="M1410.3,207.3 L1405.8,200.8" stroke="#111111"/>
<path d="M1378.3,296.9 L1373.4,287.0" stroke="#ee4a10"/>
<path d="M1373.4,287.0 L1368.5,277.2" stroke="#111111"/>
<path d="M1378.3,296.9 L1385.9,283.0" stroke="#ee4a10"/>
<path d="M1385.9,283.0 L1393.5,269.2" stroke="#111111"/>
<path d="M1378.3,296.9 L1394.4,292.9" stroke="#ee4a10"/>
<path d="M1394.4,292.9 L1410.6,288.9" stroke="#111111"/>
<path d="M1378.3,296.9 L1388.2,302.3" stroke="#ee4a10"/>
<path d="M1388.2,302.3 L1398.0,307.7" stroke="#111111"/>
<path d="M1378.3,296.9 L1376.7,299.4" stroke="#ee4a10"/>
<path d="M1376.7,299.4 L1375.0,302.0" stroke="#111111"/>
<path d="M1378.3,296.9 L1360.4,295.4" stroke="#ee4a10"/>
<path d="M1360.4,295.4 L1342.5,293.8" stroke="#111111"/>
<path d="M1378.3,296.9 L1371.6,291.1" stroke="#ee4a10"/>
<path d="M1371.6,291.1 L1364.9,285.3" stroke="#111111"/>
<path d="M1378.3,296.9 L1379.2,298.4" stroke="#ee4a10"/>
<path d="M1379.2,298.4 L1380.0,300.0" stroke="#111111"/>
<path d="M1378.3,296.9 L1375.2,310.5" stroke="#ee4a10"/>
<path d="M1375.2,310.5 L1372.0,324.2" stroke="#111111"/>
<path d="M1378.3,296.9 L1362.9,306.8" stroke="#ee4a10"/>
<path d="M1362.9,306.8 L1347.5,316.6" stroke="#111111"/>
<path d="M1442.6,9.4 L1430.4,21.1" stroke="#0a14f6"/>
<path d="M1430.4,21.1 L1418.3,32.8" stroke="#b8101a"/>
<path d="M1418.3,32.8 L1421.4,45.1" stroke="#b8101a"/>
<path d="M1421.4,45.1 L1424.5,57.5" stroke="#eea52c"/>
<path d="M1424.5,57.5 L1428.8,65.4" stroke="#eea52c"/>
<path d="M1428.8,65.4 L1433.2,73.3" stroke="#b8101a"/>
<path d="M1433.2,73.3 L1449.0,82.0" stroke="#b8101a"/>
<path d="M1449.0,82.0 L1464.8,90.7" stroke="#0a14f6"/>
<path d="M1442.6,9.4 L1457.9,15.8" stroke="#0a14f6"/>
<path d="M1457.9,15.8 L1473.3,22.2" stroke="#b8101a"/>
<path d="M1473.3,22.2 L1483.9,31.9" stroke="#b8101a"/>
<path d="M1483.9,31.9 L1494.6,41.5" stroke="#eea52c"/>
<path d="M1494.6,41.5 L1492.9,53.1" stroke="#eea52c"/>
<path d="M1492.9,53.1 L1491.2,64.8" stroke="#b8101a"/>
<path d="M1491.2,64.8 L1478.0,77.8" stroke="#b8101a"/>
<path d="M1478.0,77.8 L1464.8,90.7" stroke="#0a14f6"/>
<path d="M1464.8,90.7 L1457.6,98.3" stroke="#0a14f6"/>
<path d="M1457.6,98.3 L1450.4,106.0" stroke="#b8101a"/>
<path d="M1450.4,106.0 L1453.1,115.0" stroke="#b8101a"/>
<path d="M1453.1,115.0 L1455.8,123.9" stroke="#eea52c"/>
<path d="M1455.8,123.9 L1451.5,135.9" stroke="#eea52c"/>
<path d="M1451.5,135.9 L1447.3,148.0" stroke="#b8101a"/>
<path d="M1447.3,148.0 L1451.8,159.8" stroke="#3c0808"/>
<path d="M1451.8,159.8 L1456.4,171.7" stroke="#0a14f6"/>
<path d="M1464.8,90.7 L1473.3,102.8" stroke="#0a14f6"/>
<path d="M1473.3,102.8 L1481.8,114.9" stroke="#3c0808"/>
<path d="M1481.8,114.9 L1485.8,126.5" stroke="#b8101a"/>
<path d="M1485.8,126.5 L1489.8,138.2" stroke="#eea52c"/>
<path d="M1489.8,138.2 L1479.9,148.1" stroke="#eea52c"/>
<path d="M1479.9,148.1 L1470.1,157.9" stroke="#b8101a"/>
<path d="M1470.1,157.9 L1463.2,164.8" stroke="#b8101a"/>
<path d="M1463.2,164.8 L1456.4,171.7" stroke="#0a14f6"/>
<path d="M1456.4,171.7 L1441.0,180.0" stroke="#0a14f6"/>
<path d="M1441.0,180.0 L1425.5,188.3" stroke="#b8101a"/>
<path d="M1425.5,188.3 L1417.7,195.4" stroke="#b8101a"/>
<path d="M1417.7,195.4 L1409.8,202.6" stroke="#eea52c"/>
<path d="M1409.8,202.6 L1409.6,216.9" stroke="#eea52c"/>
<path d="M1409.6,216.9 L1409.4,231.2" stroke="#b8101a"/>
<path d="M1409.4,231.2 L1423.0,243.2" stroke="#b8101a"/>
<path d="M1423.0,243.2 L1436.5,255.3" stroke="#0a14f6"/>
<path d="M1456.4,171.7 L1468.7,184.0" stroke="#0a14f6"/>
<path d="M1468.7,184.0 L1481.0,196.3" stroke="#b8101a"/>
<path d="M1481.0,196.3 L1479.5,208.4" stroke="#b8101a"/>
<path d="M1479.5,208.4 L1477.9,220.5" stroke="#eea52c"/>
<path d="M1477.9,220.5 L1472.8,229.9" stroke="#eea52c"/>
<path d="M1472.8,229.9 L1467.6,239.3" stroke="#3c0808"/>
<path d="M1467.6,239.3 L1452.0,247.3" stroke="#b8101a"/>
<path d="M1452.0,247.3 L1436.5,255.3" stroke="#0a14f6"/>
<path d="M1436.5,255.3 L1429.3,267.1" stroke="#0a14f6"/>
<path d="M1429.3,267.1 L1422.2,279.0" stroke="#b8101a"/>
<path d="M1422.2,279.0 L1417.7,291.1" stroke="#b8101a"/>
<path d="M1417.7,291.1 L1413.2,303.2" stroke="#eea52c"/>
<path d="M1413.2,303.2 L1421.6,311.6" stroke="#eea52c"/>
<path d="M1421.6,311.6 L1430.0,320.0" stroke="#3c0808"/>
<path d="M1430.0,320.0 L1438.8,329.2" stroke="#3c0808"/>
<path d="M1438.8,329.2 L1447.6,338.4" stroke="#0a14f6"/>
<path d="M1436.5,255.3 L1443.5,263.1" stroke="#0a14f6"/>
<path d="M1443.5,263.1 L1450.4,271.0" stroke="#3c0808"/>
<path d="M1450.4,271.0 L1448.4,279.5" stroke="#3c0808"/>
<path d="M1448.4,279.5 L1446.4,288.0" stroke="#eea52c"/>
<path d="M1446.4,288.0 L1451.1,300.1" stroke="#eea52c"/>
<path d="M1451.1,300.1 L1455.7,312.1" stroke="#b8101a"/>
<path d="M1455.7,312.1 L1451.7,325.2" stroke="#b8101a"/>
<path d="M1451.7,325.2 L1447.6,338.4" stroke="#0a14f6"/>
<path d="M1424.5,57.5 L1434.0,57.1" stroke="#eea52c"/>
<path d="M1434.0,57.1 L1443.5,56.7" stroke="#3c4c4c"/>
<path d="M1494.6,41.5 L1496.8,46.8" stroke="#eea52c"/>
<path d="M1496.8,46.8 L1499.0,52.0" stroke="#111111"/>
<path d="M1455.8,123.9 L1473.7,123.7" stroke="#eea52c"/>
<path d="M1473.7,123.7 L1491.6,123.4" stroke="#111111"/>
<path d="M1489.8,138.2 L1497.9,139.8" stroke="#eea52c"/>
<path d="M1497.9,139.8 L1506.0,141.5" stroke="#111111"/>
<path d="M1477.9,220.5 L1466.9,220.7" stroke="#eea52c"/>
<path d="M1466.9,220.7 L1455.9,220.9" stroke="#111111"/>
<path d="M1409.8,202.6 L1407.8,201.7" stroke="#eea52c"/>
<path d="M1407.8,201.7 L1405.8,200.8" stroke="#111111"/>
<path d="M1446.4,288.0 L1428.5,288.4" stroke="#eea52c"/>
<path d="M1428.5,288.4 L1410.6,288.9" stroke="#111111"/>
<path d="M1413.2,303.2 L1406.1,303.6" stroke="#eea52c"/>
<path d="M1406.1,303.6 L1398.9,304.0" stroke="#111111"/>
<path d="M1446.5,37.5 L1443.5,56.7 L1458,77.2" stroke="#8c9c9c" fill="none"/>
<path d="M1446.5,37.5 L1463,44.3 L1469.5,68.2 L1458,77.2" stroke="#3c4c4c" fill="none"/>
<path d="M1443.5,56.7 L1465.6,52" stroke="#8c9c9c" fill="none"/>
<path d="M1504.4,21.3 L1516.8,28.1 L1523.6,52.0 L1516.8,59.7 L1499.0,52.0 L1493.8,35.8 Z" stroke="#111111" fill="none"/>
<path d="M1491.6,123.4 L1508.6,103.3 L1533.2,110.4 L1530.5,133.7 L1505.9,141.8 Z" stroke="#111111" fill="none"/>
<path d="M1536.4,119.4 L1560.1,127.4 L1556.0,150.7 L1531.4,158.3 L1522.0,139.1 Z" stroke="#111111" fill="none"/>
<path d="M1455.9,220.9 L1452.8,202.1 L1436.7,207.5 L1432.7,233.0 L1443.4,241.1 Z" stroke="#111111" fill="none"/>
<path d="M1395.0,186.5 L1383.0,193.6 L1376.3,218.3 L1384.3,226.8 L1404.9,219.1 L1405.8,200.8 Z" stroke="#111111" fill="none"/>
<path d="M1368.5,277.2 L1393.5,269.2 L1410.6,288.9 L1398.0,307.7 L1375.0,302.0 Z" stroke="#111111" fill="none"/>
<path d="M1342.5,293.8 L1364.9,285.3 L1380.0,300.0 L1372.0,324.2 L1347.5,316.6 Z" stroke="#111111" fill="none"/>
<path d="M1504.4,21.3 L1502,45 M1511,31 L1520,51 M1508.6,103.3 L1525.6,131.9 M1395,186.5 L1397,207 M1383,193.6 L1405.8,200.8 M1393.5,269.2 L1378,297" stroke="#111" fill="none"/></g>
<g transform="translate(5.00,329.00)"><path d="M1481.0,48.0 L1463.8,42.8" stroke="#ee4a10"/>
<path d="M1463.8,42.8 L1446.5,37.5" stroke="#3c4c4c"/>
<path d="M1481.0,48.0 L1472.0,46.1" stroke="#ee4a10"/>
<path d="M1472.0,46.1 L1463.0,44.3" stroke="#3c4c4c"/>
<path d="M1481.0,48.0 L1475.2,58.1" stroke="#ee4a10"/>
<path d="M1475.2,58.1 L1469.5,68.2" stroke="#3c4c4c"/>
<path d="M1481.0,48.0 L1469.5,62.6" stroke="#ee4a10"/>
<path d="M1469.5,62.6 L1458.0,77.2" stroke="#3c4c4c"/>
<path d="M1481.0,48.0 L1462.2,52.4" stroke="#ee4a10"/>
<path d="M1462.2,52.4 L1443.5,56.7" stroke="#3c4c4c"/>
<path d="M1481.0,48.0 L1492.7,34.6" stroke="#ee4a10"/>
<path d="M1492.7,34.6 L1504.4,21.3" stroke="#111111"/>
<path d="M1481.0,48.0 L1498.9,38.0" stroke="#ee4a10"/>
<path d="M1498.9,38.0 L1516.8,28.1" stroke="#111111"/>
<path d="M1481.0,48.0 L1502.3,50.0" stroke="#ee4a10"/>
<path d="M1502.3,50.0 L1523.6,52.0" stroke="#111111"/>
<path d="M1481.0,48.0 L1498.9,53.9" stroke="#ee4a10"/>
<path d="M1498.9,53.9 L1516.8,59.7" stroke="#111111"/>
<path d="M1481.0,48.0 L1490.0,50.0" stroke="#ee4a10"/>
<path d="M1490.0,50.0 L1499.0,52.0" stroke="#111111"/>
<path d="M1481.0,48.0 L1487.4,41.9" stroke="#ee4a10"/>
<path d="M1487.4,41.9 L1493.8,35.8" stroke="#111111"/>
<path d="M1525.6,131.9 L1508.6,127.7" stroke="#ee4a10"/>
<path d="M1508.6,127.7 L1491.6,123.4" stroke="#111111"/>
<path d="M1525.6,131.9 L1517.1,117.6" stroke="#ee4a10"/>
<path d="M1517.1,117.6 L1508.6,103.3" stroke="#111111"/>
<path d="M1525.6,131.9 L1529.4,121.2" stroke="#ee4a10"/>
<path d="M1529.4,121.2 L1533.2,110.4" stroke="#111111"/>
<path d="M1525.6,131.9 L1528.0,132.8" stroke="#ee4a10"/>
<path d="M1528.0,132.8 L1530.5,133.7" stroke="#111111"/>
<path d="M1525.6,131.9 L1515.8,136.9" stroke="#ee4a10"/>
<path d="M1515.8,136.9 L1505.9,141.8" stroke="#111111"/>
<path d="M1525.6,131.9 L1531.0,125.7" stroke="#ee4a10"/>
<path d="M1531.0,125.7 L1536.4,119.4" stroke="#111111"/>
<path d="M1525.6,131.9 L1542.8,129.7" stroke="#ee4a10"/>
<path d="M1542.8,129.7 L1560.1,127.4" stroke="#111111"/>
<path d="M1525.6,131.9 L1540.8,141.3" stroke="#ee4a10"/>
<path d="M1540.8,141.3 L1556.0,150.7" stroke="#111111"/>
<path d="M1525.6,131.9 L1528.5,145.1" stroke="#ee4a10"/>
<path d="M1528.5,145.1 L1531.4,158.3" stroke="#111111"/>
<path d="M1525.6,131.9 L1523.8,135.5" stroke="#ee4a10"/>
<path d="M1523.8,135.5 L1522.0,139.1" stroke="#111111"/>
<path d="M1414.8,213.8 L1435.3,217.4" stroke="#ee4a10"/>
<path d="M1435.3,217.4 L1455.9,220.9" stroke="#111111"/>
<path d="M1414.8,213.8 L1433.8,207.9" stroke="#ee4a10"/>
<path d="M1433.8,207.9 L1452.8,202.1" stroke="#111111"/>
<path d="M1414.8,213.8 L1425.8,210.7" stroke="#ee4a10"/>
<path d="M1425.8,210.7 L1436.7,207.5" stroke="#111111"/>
<path d="M1414.8,213.8 L1423.8,223.4" stroke="#ee4a10"/>
<path d="M1423.8,223.4 L1432.7,233.0" stroke="#111111"/>
<path d="M1414.8,213.8 L1429.1,227.4" stroke="#ee4a10"/>
<path d="M1429.1,227.4 L1443.4,241.1" stroke="#111111"/>
<path d="M1414.8,213.8 L1404.9,200.2" stroke="#ee4a10"/>
<path d="M1404.9,200.2 L1395.0,186.5" stroke="#111111"/>
<path d="M1414.8,213.8 L1398.9,203.7" stroke="#ee4a10"/>
<path d="M1398.9,203.7 L1383.0,193.6" stroke="#111111"/>
<path d="M1414.8,213.8 L1395.5,216.1" stroke="#ee4a10"/>
<path d="M1395.5,216.1 L1376.3,218.3" stroke="#111111"/>
<path d="M1414.8,213.8 L1399.5,220.3" stroke="#ee4a10"/>
<path d="M1399.5,220.3 L1384.3,226.8" stroke="#111111"/>
<path d="M1414.8,213.8 L1409.8,216.4" stroke="#ee4a10"/>
<path d="M1409.8,216.4 L1404.9,219.1" stroke="#111111"/>
<path d="M1414.8,213.8 L1410.3,207.3" stroke="#ee4a10"/>
<path d="M1410.3,207.3 L1405.8,200.8" stroke="#111111"/>
<path d="M1378.3,296.9 L1373.4,287.0" stroke="#ee4a10"/>
<path d="M1373.4,287.0 L1368.5,277.2" stroke="#111111"/>
<path d="M1378.3,296.9 L1385.9,283.0" stroke="#ee4a10"/>
<path d="M1385.9,283.0 L1393.5,269.2" stroke="#111111"/>
<path d="M1378.3,296.9 L1394.4,292.9" stroke="#ee4a10"/>
<path d="M1394.4,292.9 L1410.6,288.9" stroke="#111111"/>
<path d="M1378.3,296.9 L1388.2,302.3" stroke="#ee4a10"/>
<path d="M1388.2,302.3 L1398.0,307.7" stroke="#111111"/>
<path d="M1378.3,296.9 L1376.7,299.4" stroke="#ee4a10"/>
<path d="M1376.7,299.4 L1375.0,302.0" stroke="#111111"/>
<path d="M1378.3,296.9 L1360.4,295.4" stroke="#ee4a10"/>
<path d="M1360.4,295.4 L1342.5,293.8" stroke="#111111"/>
<path d="M1378.3,296.9 L1371.6,291.1" stroke="#ee4a10"/>
<path d="M1371.6,291.1 L1364.9,285.3" stroke="#111111"/>
<path d="M1378.3,296.9 L1379.2,298.4" stroke="#ee4a10"/>
<path d="M1379.2,298.4 L1380.0,300.0" stroke="#111111"/>
<path d="M1378.3,296.9 L1375.2,310.5" stroke="#ee4a10"/>
<path d="M1375.2,310.5 L1372.0,324.2" stroke="#111111"/>
<path d="M1378.3,296.9 L1362.9,306.8" stroke="#ee4a10"/>
<path d="M1362.9,306.8 L1347.5,316.6" stroke="#111111"/>
<path d="M1442.6,9.4 L1430.4,21.1" stroke="#0a14f6"/>
<path d="M1430.4,21.1 L1418.3,32.8" stroke="#b8101a"/>
<path d="M1418.3,32.8 L1421.4,45.1" stroke="#b8101a"/>
<path d="M1421.4,45.1 L1424.5,57.5" stroke="#eea52c"/>
<path d="M1424.5,57.5 L1428.8,65.4" stroke="#eea52c"/>
<path d="M1428.8,65.4 L1433.2,73.3" stroke="#b8101a"/>
<path d="M1433.2,73.3 L1449.0,82.0" stroke="#b8101a"/>
<path d="M1449.0,82.0 L1464.8,90.7" stroke="#0a14f6"/>
<path d="M1442.6,9.4 L1457.9,15.8" stroke="#0a14f6"/>
<path d="M1457.9,15.8 L1473.3,22.2" stroke="#b8101a"/>
<path d="M1473.3,22.2 L1483.9,31.9" stroke="#b8101a"/>
<path d="M1483.9,31.9 L1494.6,41.5" stroke="#eea52c"/>
<path d="M1494.6,41.5 L1492.9,53.1" stroke="#eea52c"/>
<path d="M1492.9,53.1 L1491.2,64.8" stroke="#b8101a"/>
<path d="M1491.2,64.8 L1478.0,77.8" stroke="#b8101a"/>
<path d="M1478.0,77.8 L1464.8,90.7" stroke="#0a14f6"/>
<path d="M1464.8,90.7 L1457.6,98.3" stroke="#0a14f6"/>
<path d="M1457.6,98.3 L1450.4,106.0" stroke="#b8101a"/>
<path d="M1450.4,106.0 L1453.1,115.0" stroke="#b8101a"/>
<path d="M1453.1,115.0 L1455.8,123.9" stroke="#eea52c"/>
<path d="M1455.8,123.9 L1451.5,135.9" stroke="#eea52c"/>
<path d="M1451.5,135.9 L1447.3,148.0" stroke="#b8101a"/>
<path d="M1447.3,148.0 L1451.8,159.8" stroke="#3c0808"/>
<path d="M1451.8,159.8 L1456.4,171.7" stroke="#0a14f6"/>
<path d="M1464.8,90.7 L1473.3,102.8" stroke="#0a14f6"/>
<path d="M1473.3,102.8 L1481.8,114.9" stroke="#3c0808"/>
<path d="M1481.8,114.9 L1485.8,126.5" stroke="#b8101a"/>
<path d="M1485.8,126.5 L1489.8,138.2" stroke="#eea52c"/>
<path d="M1489.8,138.2 L1479.9,148.1" stroke="#eea52c"/>
<path d="M1479.9,148.1 L1470.1,157.9" stroke="#b8101a"/>
<path d="M1470.1,157.9 L1463.2,164.8" stroke="#b8101a"/>
<path d="M1463.2,164.8 L1456.4,171.7" stroke="#0a14f6"/>
<path d="M1456.4,171.7 L1441.0,180.0" stroke="#0a14f6"/>
<path d="M1441.0,180.0 L1425.5,188.3" stroke="#b8101a"/>
<path d="M1425.5,188.3 L1417.7,195.4" stroke="#b8101a"/>
<path d="M1417.7,195.4 L1409.8,202.6" stroke="#eea52c"/>
<path d="M1409.8,202.6 L1409.6,216.9" stroke="#eea52c"/>
<path d="M1409.6,216.9 L1409.4,231.2" stroke="#b8101a"/>
<path d="M1409.4,231.2 L1423.0,243.2" stroke="#b8101a"/>
<path d="M1423.0,243.2 L1436.5,255.3" stroke="#0a14f6"/>
<path d="M1456.4,171.7 L1468.7,184.0" stroke="#0a14f6"/>
<path d="M1468.7,184.0 L1481.0,196.3" stroke="#b8101a"/>
<path d="M1481.0,196.3 L1479.5,208.4" stroke="#b8101a"/>
<path d="M1479.5,208.4 L1477.9,220.5" stroke="#eea52c"/>
<path d="M1477.9,220.5 L1472.8,229.9" stroke="#eea52c"/>
<path d="M1472.8,229.9 L1467.6,239.3" stroke="#3c0808"/>
<path d="M1467.6,239.3 L1452.0,247.3" stroke="#b8101a"/>
<path d="M1452.0,247.3 L1436.5,255.3" stroke="#0a14f6"/>
<path d="M1436.5,255.3 L1429.3,267.1" stroke="#0a14f6"/>
<path d="M1429.3,267.1 L1422.2,279.0" stroke="#b8101a"/>
<path d="M1422.2,279.0 L1417.7,291.1" stroke="#b8101a"/>
<path d="M1417.7,291.1 L1413.2,303.2" stroke="#eea52c"/>
<path d="M1413.2,303.2 L1421.6,311.6" stroke="#eea52c"/>
<path d="M1421.6,311.6 L1430.0,320.0" stroke="#3c0808"/>
<path d="M1430.0,320.0 L1438.8,329.2" stroke="#3c0808"/>
<path d="M1438.8,329.2 L1447.6,338.4" stroke="#0a14f6"/>
<path d="M1436.5,255.3 L1443.5,263.1" stroke="#0a14f6"/>
<path d="M1443.5,263.1 L1450.4,271.0" stroke="#3c0808"/>
<path d="M1450.4,271.0 L1448.4,279.5" stroke="#3c0808"/>
<path d="M1448.4,279.5 L1446.4,288.0" stroke="#eea52c"/>
<path d="M1446.4,288.0 L1451.1,300.1" stroke="#eea52c"/>
<path d="M1451.1,300.1 L1455.7,312.1" stroke="#b8101a"/>
<path d="M1455.7,312.1 L1451.7,325.2" stroke="#b8101a"/>
<path d="M1451.7,325.2 L1447.6,338.4" stroke="#0a14f6"/>
<path d="M1424.5,57.5 L1434.0,57.1" stroke="#eea52c"/>
<path d="M1434.0,57.1 L1443.5,56.7" stroke="#3c4c4c"/>
<path d="M1494.6,41.5 L1496.8,46.8" stroke="#eea52c"/>
<path d="M1496.8,46.8 L1499.0,52.0" stroke="#111111"/>
<path d="M1455.8,123.9 L1473.7,123.7" stroke="#eea52c"/>
<path d="M1473.7,123.7 L1491.6,123.4" stroke="#111111"/>
<path d="M1489.8,138.2 L1497.9,139.8" stroke="#eea52c"/>
<path d="M1497.9,139.8 L1506.0,141.5" stroke="#111111"/>
<path d="M1477.9,220.5 L1466.9,220.7" stroke="#eea52c"/>
<path d="M1466.9,220.7 L1455.9,220.9" stroke="#111111"/>
<path d="M1409.8,202.6 L1407.8,201.7" stroke="#eea52c"/>
<path d="M1407.8,201.7 L1405.8,200.8" stroke="#111111"/>
<path d="M1446.4,288.0 L1428.5,288.4" stroke="#eea52c"/>
<path d="M1428.5,288.4 L1410.6,288.9" stroke="#111111"/>
<path d="M1413.2,303.2 L1406.1,303.6" stroke="#eea52c"/>
<path d="M1406.1,303.6 L1398.9,304.0" stroke="#111111"/>
<path d="M1446.5,37.5 L1443.5,56.7 L1458,77.2" stroke="#8c9c9c" fill="none"/>
<path d="M1446.5,37.5 L1463,44.3 L1469.5,68.2 L1458,77.2" stroke="#3c4c4c" fill="none"/>
<path d="M1443.5,56.7 L1465.6,52" stroke="#8c9c9c" fill="none"/>
<path d="M1504.4,21.3 L1516.8,28.1 L1523.6,52.0 L1516.8,59.7 L1499.0,52.0 L1493.8,35.8 Z" stroke="#111111" fill="none"/>
<path d="M1491.6,123.4 L1508.6,103.3 L1533.2,110.4 L1530.5,133.7 L1505.9,141.8 Z" stroke="#111111" fill="none"/>
<path d="M1536.4,119.4 L1560.1,127.4 L1556.0,150.7 L1531.4,158.3 L1522.0,139.1 Z" stroke="#111111" fill="none"/>
<path d="M1455.9,220.9 L1452.8,202.1 L1436.7,207.5 L1432.7,233.0 L1443.4,241.1 Z" stroke="#111111" fill="none"/>
<path d="M1395.0,186.5 L1383.0,193.6 L1376.3,218.3 L1384.3,226.8 L1404.9,219.1 L1405.8,200.8 Z" stroke="#111111" fill="none"/>
<path d="M1368.5,277.2 L1393.5,269.2 L1410.6,288.9 L1398.0,307.7 L1375.0,302.0 Z" stroke="#111111" fill="none"/>
<path d="M1342.5,293.8 L1364.9,285.3 L1380.0,300.0 L1372.0,324.2 L1347.5,316.6 Z" stroke="#111111" fill="none"/>
<path d="M1504.4,21.3 L1502,45 M1511,31 L1520,51 M1508.6,103.3 L1525.6,131.9 M1395,186.5 L1397,207 M1383,193.6 L1405.8,200.8 M1393.5,269.2 L1378,297" stroke="#111" fill="none"/></g>
<g transform="translate(10.00,658.00)"><path d="M1481.0,48.0 L1463.8,42.8" stroke="#ee4a10"/>
<path d="M1463.8,42.8 L1446.5,37.5" stroke="#3c4c4c"/>
<path d="M1481.0,48.0 L1472.0,46.1" stroke="#ee4a10"/>
<path d="M1472.0,46.1 L1463.0,44.3" stroke="#3c4c4c"/>
<path d="M1481.0,48.0 L1475.2,58.1" stroke="#ee4a10"/>
<path d="M1475.2,58.1 L1469.5,68.2" stroke="#3c4c4c"/>
<path d="M1481.0,48.0 L1469.5,62.6" stroke="#ee4a10"/>
<path d="M1469.5,62.6 L1458.0,77.2" stroke="#3c4c4c"/>
<path d="M1481.0,48.0 L1462.2,52.4" stroke="#ee4a10"/>
<path d="M1462.2,52.4 L1443.5,56.7" stroke="#3c4c4c"/>
<path d="M1481.0,48.0 L1492.7,34.6" stroke="#ee4a10"/>
<path d="M1492.7,34.6 L1504.4,21.3" stroke="#111111"/>
<path d="M1481.0,48.0 L1498.9,38.0" stroke="#ee4a10"/>
<path d="M1498.9,38.0 L1516.8,28.1" stroke="#111111"/>
<path d="M1481.0,48.0 L1502.3,50.0" stroke="#ee4a10"/>
<path d="M1502.3,50.0 L1523.6,52.0" stroke="#111111"/>
<path d="M1481.0,48.0 L1498.9,53.9" stroke="#ee4a10"/>
<path d="M1498.9,53.9 L1516.8,59.7" stroke="#111111"/>
<path d="M1481.0,48.0 L1490.0,50.0" stroke="#ee4a10"/>
<path d="M1490.0,50.0 L1499.0,52.0" stroke="#111111"/>
<path d="M1481.0,48.0 L1487.4,41.9" stroke="#ee4a10"/>
<path d="M1487.4,41.9 L1493.8,35.8" stroke="#111111"/>
<path d="M1525.6,131.9 L1508.6,127.7" stroke="#ee4a10"/>
<path d="M1508.6,127.7 L1491.6,123.4" stroke="#111111"/>
<path d="M1525.6,131.9 L1517.1,117.6" stroke="#ee4a10"/>
<path d="M1517.1,117.6 L1508.6,103.3" stroke="#111111"/>
<path d="M1525.6,131.9 L1529.4,121.2" stroke="#ee4a10"/>
<path d="M1529.4,121.2 L1533.2,110.4" stroke="#111111"/>
<path d="M1525.6,131.9 L1528.0,132.8" stroke="#ee4a10"/>
<path d="M1528.0,132.8 L1530.5,133.7" stroke="#111111"/>
<path d="M1525.6,131.9 L1515.8,136.9" stroke="#ee4a10"/>
<path d="M1515.8,136.9 L1505.9,141.8" stroke="#111111"/>
<path d="M1525.6,131.9 L1531.0,125.7" stroke="#ee4a10"/>
<path d="M1531.0,125.7 L1536.4,119.4" stroke="#111111"/>
<path d="M1525.6,131.9 L1542.8,129.7" stroke="#ee4a10"/>
<path d="M1542.8,129.7 L1560.1,127.4" stroke="#111111"/>
<path d="M1525.6,131.9 L1540.8,141.3" stroke="#ee4a10"/>
<path d="M1540.8,141.3 L1556.0,150.7" stroke="#111111"/>
<path d="M1525.6,131.9 L1528.5,145.1" stroke="#ee4a10"/>
<path d="M1528.5,145.1 L1531.4,158.3" stroke="#111111"/>
<path d="M1525.6,131.9 L1523.8,135.5" stroke="#ee4a10"/>
<path d="M1523.8,135.5 L1522.0,139.1" stroke="#111111"/>
<path d="M1414.8,213.8 L1435.3,217.4" stroke="#ee4a10"/>
<path d="M1435.3,217.4 L1455.9,220.9" stroke="#111111"/>
<path d="M1414.8,213.8 L1433.8,207.9" stroke="#ee4a10"/>
<path d="M1433.8,207.9 L1452.8,202.1" stroke="#111111"/>
<path d="M1414.8,213.8 L1425.8,210.7" stroke="#ee4a10"/>
<path d="M1425.8,210.7 L1436.7,207.5" stroke="#111111"/>
<path d="M1414.8,213.8 L1423.8,223.4" stroke="#ee4a10"/>
<path d="M1423.8,223.4 L1432.7,233.0" stroke="#111111"/>
<path d="M1414.8,213.8 L1429.1,227.4" stroke="#ee4a10"/>
<path d="M1429.1,227.4 L1443.4,241.1" stroke="#111111"/>
<path d="M1414.8,213.8 L1404.9,200.2" stroke="#ee4a10"/>
<path d="M1404.9,200.2 L1395.0,186.5" stroke="#111111"/>
<path d="M1414.8,213.8 L1398.9,203.7" stroke="#ee4a10"/>
<path d="M1398.9,203.7 L1383.0,193.6" stroke="#111111"/>
<path d="M1414.8,213.8 L1395.5,216.1" stroke="#ee4a10"/>
<path d="M1395.5,216.1 L1376.3,218.3" stroke="#111111"/>
<path d="M1414.8,213.8 L1399.5,220.3" stroke="#ee4a10"/>
<path d="M1399.5,220.3 L1384.3,226.8" stroke="#111111"/>
<path d="M1414.8,213.8 L1409.8,216.4" stroke="#ee4a10"/>
<path d="M1409.8,216.4 L1404.9,219.1" stroke="#111111"/>
<path d="M1414.8,213.8 L1410.3,207.3" stroke="#ee4a10"/>
<path d="M1410.3,207.3 L1405.8,200.8" stroke="#111111"/>
<path d="M1378.3,296.9 L1373.4,287.0" stroke="#ee4a10"/>
<path d="M1373.4,287.0 L1368.5,277.2" stroke="#111111"/>
<path d="M1378.3,296.9 L1385.9,283.0" stroke="#ee4a10"/>
<path d="M1385.9,283.0 L1393.5,269.2" stroke="#111111"/>
<path d="M1378.3,296.9 L1394.4,292.9" stroke="#ee4a10"/>
<path d="M1394.4,292.9 L1410.6,288.9" stroke="#111111"/>
<path d="M1378.3,296.9 L1388.2,302.3" stroke="#ee4a10"/>
<path d="M1388.2,302.3 L1398.0,307.7" stroke="#111111"/>
<path d="M1378.3,296.9 L1376.7,299.4" stroke="#ee4a10"/>
<path d="M1376.7,299.4 L1375.0,302.0" stroke="#111111"/>
<path d="M1378.3,296.9 L1360.4,295.4" stroke="#ee4a10"/>
<path d="M1360.4,295.4 L1342.5,293.8" stroke="#111111"/>
<path d="M1378.3,296.9 L1371.6,291.1" stroke="#ee4a10"/>
<path d="M1371.6,291.1 L1364.9,285.3" stroke="#111111"/>
<path d="M1378.3,296.9 L1379.2,298.4" stroke="#ee4a10"/>
<path d="M1379.2,298.4 L1380.0,300.0" stroke="#111111"/>
<path d="M1378.3,296.9 L1375.2,310.5" stroke="#ee4a10"/>
<path d="M1375.2,310.5 L1372.0,324.2" stroke="#111111"/>
<path d="M1378.3,296.9 L1362.9,306.8" stroke="#ee4a10"/>
<path d="M1362.9,306.8 L1347.5,316.6" stroke="#111111"/>
<path d="M1442.6,9.4 L1430.4,21.1" stroke="#0a14f6"/>
<path d="M1430.4,21.1 L1418.3,32.8" stroke="#b8101a"/>
<path d="M1418.3,32.8 L1421.4,45.1" stroke="#b8101a"/>
<path d="M1421.4,45.1 L1424.5,57.5" stroke="#eea52c"/>
<path d="M1424.5,57.5 L1428.8,65.4" stroke="#eea52c"/>
<path d="M1428.8,65.4 L1433.2,73.3" stroke="#b8101a"/>
<path d="M1433.2,73.3 L1449.0,82.0" stroke="#b8101a"/>
<path d="M1449.0,82.0 L1464.8,90.7" stroke="#0a14f6"/>
<path d="M1442.6,9.4 L1457.9,15.8" stroke="#0a14f6"/>
<path d="M1457.9,15.8 L1473.3,22.2" stroke="#b8101a"/>
<path d="M1473.3,22.2 L1483.9,31.9" stroke="#b8101a"/>
<path d="M1483.9,31.9 L1494.6,41.5" stroke="#eea52c"/>
<path d="M1494.6,41.5 L1492.9,53.1" stroke="#eea52c"/>
<path d="M1492.9,53.1 L1491.2,64.8" stroke="#b8101a"/>
<path d="M1491.2,64.8 L1478.0,77.8" stroke="#b8101a"/>
<path d="M1478.0,77.8 L1464.8,90.7" stroke="#0a14f6"/>
<path d="M1464.8,90.7 L1457.6,98.3" stroke="#0a14f6"/>
<path d="M1457.6,98.3 L1450.4,106.0" stroke="#b8101a"/>
<path d="M1450.4,106.0 L1453.1,115.0" stroke="#b8101a"/>
<path d="M1453.1,115.0 L1455.8,123.9" stroke="#eea52c"/>
<path d="M1455.8,123.9 L1451.5,135.9" stroke="#eea52c"/>
<path d="M1451.5,135.9 L1447.3,148.0" stroke="#b8101a"/>
<path d="M1447.3,148.0 L1451.8,159.8" stroke="#3c0808"/>
<path d="M1451.8,159.8 L1456.4,171.7" stroke="#0a14f6"/>
<path d="M1464.8,90.7 L1473.3,102.8" stroke="#0a14f6"/>
<path d="M1473.3,102.8 L1481.8,114.9" stroke="#3c0808"/>
<path d="M1481.8,114.9 L1485.8,126.5" stroke="#b8101a"/>
<path d="M1485.8,126.5 L1489.8,138.2" stroke="#eea52c"/>
<path d="M1489.8,138.2 L1479.9,148.1" stroke="#eea52c"/>
<path d="M1479.9,148.1 L1470.1,157.9" stroke="#b8101a"/>
<path d="M1470.1,157.9 L1463.2,164.8" stroke="#b8101a"/>
<path d="M1463.2,164.8 L1456.4,171.7" stroke="#0a14f6"/>
<path d="M1456.4,171.7 L1441.0,180.0" stroke="#0a14f6"/>
<path d="M1441.0,180.0 L1425.5,188.3" stroke="#b8101a"/>
<path d="M1425.5,188.3 L1417.7,195.4" stroke="#b8101a"/>
<path d="M1417.7,195.4 L1409.8,202.6" stroke="#eea52c"/>
<path d="M1409.8,202.6 L1409.6,216.9" stroke="#eea52c"/>
<path d="M1409.6,216.9 L1409.4,231.2" stroke="#b8101a"/>
<path d="M1409.4,231.2 L1423.0,243.2" stroke="#b8101a"/>
<path d="M1423.0,243.2 L1436.5,255.3" stroke="#0a14f6"/>
<path d="M1456.4,171.7 L1468.7,184.0" stroke="#0a14f6"/>
<path d="M1468.7,184.0 L1481.0,196.3" stroke="#b8101a"/>
<path d="M1481.0,196.3 L1479.5,208.4" stroke="#b8101a"/>
<path d="M1479.5,208.4 L1477.9,220.5" stroke="#eea52c"/>
<path d="M1477.9,220.5 L1472.8,229.9" stroke="#eea52c"/>
<path d="M1472.8,229.9 L1467.6,239.3" stroke="#3c0808"/>
<path d="M1467.6,239.3 L1452.0,247.3" stroke="#b8101a"/>
<path d="M1452.0,247.3 L1436.5,255.3" stroke="#0a14f6"/>
<path d="M1436.5,255.3 L1429.3,267.1" stroke="#0a14f6"/>
<path d="M1429.3,267.1 L1422.2,279.0" stroke="#b8101a"/>
<path d="M1422.2,279.0 L1417.7,291.1" stroke="#b8101a"/>
<path d="M1417.7,291.1 L1413.2,303.2" stroke="#eea52c"/>
<path d="M1413.2,303.2 L1421.6,311.6" stroke="#eea52c"/>
<path d="M1421.6,311.6 L1430.0,320.0" stroke="#3c0808"/>
<path d="M1430.0,320.0 L1438.8,329.2" stroke="#3c0808"/>
<path d="M1438.8,329.2 L1447.6,338.4" stroke="#0a14f6"/>
<path d="M1436.5,255.3 L1443.5,263.1" stroke="#0a14f6"/>
<path d="M1443.5,263.1 L1450.4,271.0" stroke="#3c0808"/>
<path d="M1450.4,271.0 L1448.4,279.5" stroke="#3c0808"/>
<path d="M1448.4,279.5 L1446.4,288.0" stroke="#eea52c"/>
<path d="M1446.4,288.0 L1451.1,300.1" stroke="#eea52c"/>
<path d="M1451.1,300.1 L1455.7,312.1" stroke="#b8101a"/>
<path d="M1455.7,312.1 L1451.7,325.2" stroke="#b8101a"/>
<path d="M1451.7,325.2 L1447.6,338.4" stroke="#0a14f6"/>
<path d="M1424.5,57.5 L1434.0,57.1" stroke="#eea52c"/>
<path d="M1434.0,57.1 L1443.5,56.7" stroke="#3c4c4c"/>
<path d="M1494.6,41.5 L1496.8,46.8" stroke="#eea52c"/>
<path d="M1496.8,46.8 L1499.0,52.0" stroke="#111111"/>
<path d="M1455.8,123.9 L1473.7,123.7" stroke="#eea52c"/>
<path d="M1473.7,123.7 L1491.6,123.4" stroke="#111111"/>
<path d="M1489.8,138.2 L1497.9,139.8" stroke="#eea52c"/>
<path d="M1497.9,139.8 L1506.0,141.5" stroke="#111111"/>
<path d="M1477.9,220.5 L1466.9,220.7" stroke="#eea52c"/>
<path d="M1466.9,220.7 L1455.9,220.9" stroke="#111111"/>
<path d="M1409.8,202.6 L1407.8,201.7" stroke="#eea52c"/>
<path d="M1407.8,201.7 L1405.8,200.8" stroke="#111111"/>
<path d="M1446.4,288.0 L1428.5,288.4" stroke="#eea52c"/>
<path d="M1428.5,288.4 L1410.6,288.9" stroke="#111111"/>
<path d="M1413.2,303.2 L1406.1,303.6" stroke="#eea52c"/>
<path d="M1406.1,303.6 L1398.9,304.0" stroke="#111111"/>
<path d="M1446.5,37.5 L1443.5,56.7 L1458,77.2" stroke="#8c9c9c" fill="none"/>
<path d="M1446.5,37.5 L1463,44.3 L1469.5,68.2 L1458,77.2" stroke="#3c4c4c" fill="none"/>
<path d="M1443.5,56.7 L1465.6,52" stroke="#8c9c9c" fill="none"/>
<path d="M1504.4,21.3 L1516.8,28.1 L1523.6,52.0 L1516.8,59.7 L1499.0,52.0 L1493.8,35.8 Z" stroke="#111111" fill="none"/>
<path d="M1491.6,123.4 L1508.6,103.3 L1533.2,110.4 L1530.5,133.7 L1505.9,141.8 Z" stroke="#111111" fill="none"/>
<path d="M1536.4,119.4 L1560.1,127.4 L1556.0,150.7 L1531.4,158.3 L1522.0,139.1 Z" stroke="#111111" fill="none"/>
<path d="M1455.9,220.9 L1452.8,202.1 L1436.7,207.5 L1432.7,233.0 L1443.4,241.1 Z" stroke="#111111" fill="none"/>
<path d="M1395.0,186.5 L1383.0,193.6 L1376.3,218.3 L1384.3,226.8 L1404.9,219.1 L1405.8,200.8 Z" stroke="#111111" fill="none"/>
<path d="M1368.5,277.2 L1393.5,269.2 L1410.6,288.9 L1398.0,307.7 L1375.0,302.0 Z" stroke="#111111" fill="none"/>
<path d="M1342.5,293.8 L1364.9,285.3 L1380.0,300.0 L1372.0,324.2 L1347.5,316.6 Z" stroke="#111111" fill="none"/>
<path d="M1504.4,21.3 L1502,45 M1511,31 L1520,51 M1508.6,103.3 L1525.6,131.9 M1395,186.5 L1397,207 M1383,193.6 L1405.8,200.8 M1393.5,269.2 L1378,297" stroke="#111" fill="none"/></g>
<g transform="translate(-10.40,-325.10)"><path d="M1716.1,56.4 L1703.3,43.6" stroke="#ee4a10"/>
<path d="M1703.3,43.6 L1690.6,30.9" stroke="#3c4c4c"/>
<path d="M1716.1,56.4 L1706.9,49.7" stroke="#ee4a10"/>
<path d="M1706.9,49.7 L1697.7,43.0" stroke="#3c4c4c"/>
<path d="M1716.1,56.4 L1705.8,59.1" stroke="#ee4a10"/>
<path d="M1705.8,59.1 L1695.5,61.8" stroke="#3c4c4c"/>
<path d="M1716.1,56.4 L1698.2,62.9" stroke="#ee4a10"/>
<path d="M1698.2,62.9 L1680.3,69.4" stroke="#3c4c4c"/>
<path d="M1716.1,56.4 L1697.3,53.2" stroke="#ee4a10"/>
<path d="M1697.3,53.2 L1678.5,50.1" stroke="#3c4c4c"/>
<path d="M1716.1,56.4 L1728.8,53.2" stroke="#ee4a10"/>
<path d="M1728.8,53.2 L1741.6,50.1" stroke="#111111"/>
<path d="M1716.1,56.4 L1734.7,50.1" stroke="#ee4a10"/>
<path d="M1734.7,50.1 L1753.2,43.9" stroke="#111111"/>
<path d="M1716.1,56.4 L1736.2,54.6" stroke="#ee4a10"/>
<path d="M1736.2,54.6 L1756.4,52.8" stroke="#111111"/>
<path d="M1716.1,56.4 L1733.3,66.7" stroke="#ee4a10"/>
<path d="M1733.3,66.7 L1750.5,77.0" stroke="#111111"/>
<path d="M1716.1,56.4 L1729.0,70.0" stroke="#ee4a10"/>
<path d="M1729.0,70.0 L1742.0,83.7" stroke="#111111"/>
<path d="M1716.1,56.4 L1724.2,64.9" stroke="#ee4a10"/>
<path d="M1724.2,64.9 L1732.2,73.4" stroke="#111111"/>
<path d="M1617.6,138.3 L1604.6,129.2" stroke="#ee4a10"/>
<path d="M1604.6,129.2 L1591.6,120.0" stroke="#111111"/>
<path d="M1617.6,138.3 L1617.6,124.9" stroke="#ee4a10"/>
<path d="M1617.6,124.9 L1617.6,111.5" stroke="#111111"/>
<path d="M1617.6,138.3 L1625.7,133.9" stroke="#ee4a10"/>
<path d="M1625.7,133.9 L1633.7,129.4" stroke="#111111"/>
<path d="M1617.6,138.3 L1613.5,145.0" stroke="#ee4a10"/>
<path d="M1613.5,145.0 L1609.5,151.7" stroke="#111111"/>
<path d="M1617.6,138.3 L1603.3,140.8" stroke="#ee4a10"/>
<path d="M1603.3,140.8 L1589.0,143.3" stroke="#111111"/>
<path d="M1617.6,138.3 L1633.7,142.6" stroke="#ee4a10"/>
<path d="M1633.7,142.6 L1649.8,146.8" stroke="#111111"/>
<path d="M1617.6,138.3 L1625.7,134.7" stroke="#ee4a10"/>
<path d="M1625.7,134.7 L1633.7,131.0" stroke="#111111"/>
<path d="M1617.6,138.3 L1613.8,137.2" stroke="#ee4a10"/>
<path d="M1613.8,137.2 L1610.0,136.0" stroke="#111111"/>
<path d="M1617.6,138.3 L1612.7,149.5" stroke="#ee4a10"/>
<path d="M1612.7,149.5 L1607.7,160.7" stroke="#111111"/>
<path d="M1617.6,138.3 L1625.7,152.7" stroke="#ee4a10"/>
<path d="M1625.7,152.7 L1633.7,167.0" stroke="#111111"/>
<path d="M1677.3,216.5 L1690.5,202.8" stroke="#ee4a10"/>
<path d="M1690.5,202.8 L1703.7,189.2" stroke="#111111"/>
<path d="M1677.3,216.5 L1696.5,212.5" stroke="#ee4a10"/>
<path d="M1696.5,212.5 L1715.8,208.5" stroke="#111111"/>
<path d="M1677.3,216.5 L1697.0,221.9" stroke="#ee4a10"/>
<path d="M1697.0,221.9 L1716.7,227.3" stroke="#111111"/>
<path d="M1677.3,216.5 L1687.2,219.2" stroke="#ee4a10"/>
<path d="M1687.2,219.2 L1697.0,222.0" stroke="#111111"/>
<path d="M1677.3,216.5 L1682.7,213.2" stroke="#ee4a10"/>
<path d="M1682.7,213.2 L1688.0,210.0" stroke="#111111"/>
<path d="M1677.3,216.5 L1659.8,211.2" stroke="#ee4a10"/>
<path d="M1659.8,211.2 L1642.4,205.8" stroke="#111111"/>
<path d="M1677.3,216.5 L1667.4,214.3" stroke="#ee4a10"/>
<path d="M1667.4,214.3 L1657.6,212.1" stroke="#111111"/>
<path d="M1677.3,216.5 L1671.9,224.6" stroke="#ee4a10"/>
<path d="M1671.9,224.6 L1666.5,232.7" stroke="#111111"/>
<path d="M1677.3,216.5 L1666.5,230.8" stroke="#ee4a10"/>
<path d="M1666.5,230.8 L1655.8,245.2" stroke="#111111"/>
<path d="M1677.3,216.5 L1662.1,226.8" stroke="#ee4a10"/>
<path d="M1662.1,226.8 L1646.9,237.1" stroke="#111111"/>
<path d="M1677.3,216.5 L1658.2,215.2" stroke="#ee4a10"/>
<path d="M1658.2,215.2 L1639.2,213.9" stroke="#111111"/>
<path d="M1781.1,298.3 L1781.5,284.2" stroke="#ee4a10"/>
<path d="M1781.5,284.2 L1782.0,270.1" stroke="#111111"/>
<path d="M1781.1,298.3 L1794.5,287.6" stroke="#ee4a10"/>
<path d="M1794.5,287.6 L1808.0,276.9" stroke="#111111"/>
<path d="M1781.1,298.3 L1796.8,299.5" stroke="#ee4a10"/>
<path d="M1796.8,299.5 L1812.5,300.6" stroke="#111111"/>
<path d="M1781.1,298.3 L1788.3,302.8" stroke="#ee4a10"/>
<path d="M1788.3,302.8 L1795.5,307.3" stroke="#111111"/>
<path d="M1781.1,298.3 L1776.5,294.1" stroke="#ee4a10"/>
<path d="M1776.5,294.1 L1772.0,290.0" stroke="#111111"/>
<path d="M1781.1,298.3 L1766.8,301.2" stroke="#ee4a10"/>
<path d="M1766.8,301.2 L1752.5,304.1" stroke="#111111"/>
<path d="M1781.1,298.3 L1773.9,291.6" stroke="#ee4a10"/>
<path d="M1773.9,291.6 L1766.8,284.9" stroke="#111111"/>
<path d="M1781.1,298.3 L1787.4,295.2" stroke="#ee4a10"/>
<path d="M1787.4,295.2 L1793.7,292.1" stroke="#111111"/>
<path d="M1781.1,298.3 L1788.3,306.8" stroke="#ee4a10"/>
<path d="M1788.3,306.8 L1795.5,315.3" stroke="#111111"/>
<path d="M1781.1,298.3 L1775.3,310.9" stroke="#ee4a10"/>
<path d="M1775.3,310.9 L1769.5,323.4" stroke="#111111"/>
<path d="M1708.5,14.8 L1692.2,22.9" stroke="#0a14f6"/>
<path d="M1692.2,22.9 L1675.8,30.9" stroke="#b8101a"/>
<path d="M1675.8,30.9 L1669.8,41.5" stroke="#b8101a"/>
<path d="M1669.8,41.5 L1663.7,52.0" stroke="#eea52c"/>
<path d="M1663.7,52.0 L1662.8,62.7" stroke="#eea52c"/>
<path d="M1662.8,62.7 L1661.9,73.4" stroke="#b8101a"/>
<path d="M1661.9,73.4 L1675.3,85.0" stroke="#b8101a"/>
<path d="M1675.3,85.0 L1688.8,96.5" stroke="#0a14f6"/>
<path d="M1708.5,14.8 L1722.6,26.2" stroke="#0a14f6"/>
<path d="M1722.6,26.2 L1736.7,37.6" stroke="#b8101a"/>
<path d="M1736.7,37.6 L1738.0,47.9" stroke="#b8101a"/>
<path d="M1738.0,47.9 L1739.3,58.2" stroke="#eea52c"/>
<path d="M1739.3,58.2 L1729.9,69.4" stroke="#eea52c"/>
<path d="M1729.9,69.4 L1720.6,80.6" stroke="#b8101a"/>
<path d="M1720.6,80.6 L1704.7,88.5" stroke="#b8101a"/>
<path d="M1704.7,88.5 L1688.8,96.5" stroke="#0a14f6"/>
<path d="M1688.8,96.5 L1684.5,104.2" stroke="#0a14f6"/>
<path d="M1684.5,104.2 L1680.2,111.9" stroke="#b8101a"/>
<path d="M1680.2,111.9 L1671.5,120.7" stroke="#b8101a"/>
<path d="M1671.5,120.7 L1662.8,129.4" stroke="#eea52c"/>
<path d="M1662.8,129.4 L1668.4,142.4" stroke="#eea52c"/>
<path d="M1668.4,142.4 L1674.0,155.3" stroke="#b8101a"/>
<path d="M1674.0,155.3 L1679.7,166.4" stroke="#3c0808"/>
<path d="M1679.7,166.4 L1685.4,177.4" stroke="#0a14f6"/>
<path d="M1688.8,96.5 L1691.9,108.7" stroke="#0a14f6"/>
<path d="M1691.9,108.7 L1695.0,120.9" stroke="#3c0808"/>
<path d="M1695.0,120.9 L1689.8,133.7" stroke="#b8101a"/>
<path d="M1689.8,133.7 L1684.7,146.4" stroke="#eea52c"/>
<path d="M1684.7,146.4 L1689.0,154.9" stroke="#eea52c"/>
<path d="M1689.0,154.9 L1693.2,163.4" stroke="#b8101a"/>
<path d="M1693.2,163.4 L1689.3,170.4" stroke="#b8101a"/>
<path d="M1689.3,170.4 L1685.4,177.4" stroke="#0a14f6"/>
<path d="M1685.4,177.4 L1672.0,189.8" stroke="#0a14f6"/>
<path d="M1672.0,189.8 L1658.5,202.2" stroke="#b8101a"/>
<path d="M1658.5,202.2 L1659.2,212.1" stroke="#b8101a"/>
<path d="M1659.2,212.1 L1660.0,222.0" stroke="#eea52c"/>
<path d="M1660.0,222.0 L1668.7,233.2" stroke="#eea52c"/>
<path d="M1668.7,233.2 L1677.3,244.3" stroke="#b8101a"/>
<path d="M1677.3,244.3 L1693.4,251.5" stroke="#b8101a"/>
<path d="M1693.4,251.5 L1709.5,258.6" stroke="#0a14f6"/>
<path d="M1685.4,177.4 L1702.0,184.2" stroke="#0a14f6"/>
<path d="M1702.0,184.2 L1718.5,191.0" stroke="#b8101a"/>
<path d="M1718.5,191.0 L1724.8,200.2" stroke="#b8101a"/>
<path d="M1724.8,200.2 L1731.0,209.4" stroke="#eea52c"/>
<path d="M1731.0,209.4 L1733.2,221.4" stroke="#eea52c"/>
<path d="M1733.2,221.4 L1735.5,233.5" stroke="#b8101a"/>
<path d="M1735.5,233.5 L1722.5,246.1" stroke="#b8101a"/>
<path d="M1722.5,246.1 L1709.5,258.6" stroke="#0a14f6"/>
<path d="M1709.5,258.6 L1707.5,269.8" stroke="#0a14f6"/>
<path d="M1707.5,269.8 L1705.5,280.9" stroke="#b8101a"/>
<path d="M1705.5,280.9 L1710.8,293.4" stroke="#b8101a"/>
<path d="M1710.8,293.4 L1716.2,305.9" stroke="#eea52c"/>
<path d="M1716.2,305.9 L1713.1,314.9" stroke="#eea52c"/>
<path d="M1713.1,314.9 L1710.0,323.8" stroke="#3c0808"/>
<path d="M1710.0,323.8 L1714.5,331.9" stroke="#3c0808"/>
<path d="M1714.5,331.9 L1718.9,339.9" stroke="#0a14f6"/>
<path d="M1709.5,258.6 L1717.2,268.6" stroke="#0a14f6"/>
<path d="M1717.2,268.6 L1724.8,278.6" stroke="#3c0808"/>
<path d="M1724.8,278.6 L1731.0,284.9" stroke="#3c0808"/>
<path d="M1731.0,284.9 L1737.3,291.2" stroke="#eea52c"/>
<path d="M1737.3,291.2 L1732.9,304.6" stroke="#eea52c"/>
<path d="M1732.9,304.6 L1728.5,318.0" stroke="#b8101a"/>
<path d="M1728.5,318.0 L1723.7,329.0" stroke="#b8101a"/>
<path d="M1723.7,329.0 L1718.9,339.9" stroke="#0a14f6"/>
<path d="M1663.7,52.0 L1671.1,51.0" stroke="#eea52c"/>
<path d="M1671.1,51.0 L1678.5,50.1" stroke="#3c4c4c"/>
<path d="M1739.3,58.2 L1740.4,54.2" stroke="#eea52c"/>
<path d="M1740.4,54.2 L1741.6,50.1" stroke="#111111"/>
<path d="M1662.8,129.4 L1648.2,129.4" stroke="#eea52c"/>
<path d="M1648.2,129.4 L1633.7,129.4" stroke="#111111"/>
<path d="M1684.7,146.4 L1667.2,146.6" stroke="#eea52c"/>
<path d="M1667.2,146.6 L1649.8,146.8" stroke="#111111"/>
<path d="M1731.0,209.4 L1723.4,208.9" stroke="#eea52c"/>
<path d="M1723.4,208.9 L1715.8,208.5" stroke="#111111"/>
<path d="M1660.0,222.0 L1658.8,217.1" stroke="#eea52c"/>
<path d="M1658.8,217.1 L1657.6,212.1" stroke="#111111"/>
<path d="M1737.3,291.2 L1748.9,290.9" stroke="#eea52c"/>
<path d="M1748.9,290.9 L1760.6,290.7" stroke="#111111"/>
<path d="M1716.2,305.9 L1734.3,305.0" stroke="#eea52c"/>
<path d="M1734.3,305.0 L1752.5,304.1" stroke="#111111"/>
<path d="M1690.6,30.9 L1678.5,50.1 L1680.3,69.4" stroke="#8c9c9c" fill="none"/>
<path d="M1690.6,30.9 L1697.7,43 L1695.5,61.8 L1680.3,69.4" stroke="#3c4c4c" fill="none"/>
<path d="M1741.6,50.1 L1753.2,43.9 L1756.4,52.8 L1750.5,77.0 L1742.0,83.7 L1732.2,73.4 Z" stroke="#111111" fill="none"/>
<path d="M1591.6,120.0 L1617.6,111.5 L1633.7,129.4 L1609.5,151.7 L1589.0,143.3 Z" stroke="#111111" fill="none"/>
<path d="M1649.8,146.8 L1633.7,131.0 L1610.0,136.0 L1607.7,160.7 L1633.7,167.0 Z" stroke="#111111" fill="none"/>
<path d="M1703.7,189.2 L1715.8,208.5 L1716.7,227.3 L1697.0,222.0 L1688.0,210.0 Z" stroke="#111111" fill="none"/>
<path d="M1642.4,205.8 L1657.6,212.1 L1666.5,232.7 L1655.8,245.2 L1646.9,237.1 L1639.2,213.9 Z" stroke="#111111" fill="none"/>
<path d="M1782.0,270.1 L1808.0,276.9 L1812.5,300.6 L1795.5,307.3 L1772.0,290.0 Z" stroke="#111111" fill="none"/>
<path d="M1752.5,304.1 L1766.8,284.9 L1793.7,292.1 L1795.5,315.3 L1769.5,323.4 Z" stroke="#111111" fill="none"/>
<path d="M1591.6,120 L1617.6,138.3 M1617.6,111.5 L1620,140 M1703.7,189.2 L1702,216 M1700,213 L1716,208.5 M1782,270.1 L1781,298 M1808,276.9 L1785,296" stroke="#111" fill="none"/></g>
<g transform="translate(0.00,0.00)"><path d="M1716.1,56.4 L1703.3,43.6" stroke="#ee4a10"/>
<path d="M1703.3,43.6 L1690.6,30.9" stroke="#3c4c4c"/>
<path d="M1716.1,56.4 L1706.9,49.7" stroke="#ee4a10"/>
<path d="M1706.9,49.7 L1697.7,43.0" stroke="#3c4c4c"/>
<path d="M1716.1,56.4 L1705.8,59.1" stroke="#ee4a10"/>
<path d="M1705.8,59.1 L1695.5,61.8" stroke="#3c4c4c"/>
<path d="M1716.1,56.4 L1698.2,62.9" stroke="#ee4a10"/>
<path d="M1698.2,62.9 L1680.3,69.4" stroke="#3c4c4c"/>
<path d="M1716.1,56.4 L1697.3,53.2" stroke="#ee4a10"/>
<path d="M1697.3,53.2 L1678.5,50.1" stroke="#3c4c4c"/>
<path d="M1716.1,56.4 L1728.8,53.2" stroke="#ee4a10"/>
<path d="M1728.8,53.2 L1741.6,50.1" stroke="#111111"/>
<path d="M1716.1,56.4 L1734.7,50.1" stroke="#ee4a10"/>
<path d="M1734.7,50.1 L1753.2,43.9" stroke="#111111"/>
<path d="M1716.1,56.4 L1736.2,54.6" stroke="#ee4a10"/>
<path d="M1736.2,54.6 L1756.4,52.8" stroke="#111111"/>
<path d="M1716.1,56.4 L1733.3,66.7" stroke="#ee4a10"/>
<path d="M1733.3,66.7 L1750.5,77.0" stroke="#111111"/>
<path d="M1716.1,56.4 L1729.0,70.0" stroke="#ee4a10"/>
<path d="M1729.0,70.0 L1742.0,83.7" stroke="#111111"/>
<path d="M1716.1,56.4 L1724.2,64.9" stroke="#ee4a10"/>
<path d="M1724.2,64.9 L1732.2,73.4" stroke="#111111"/>
<path d="M1617.6,138.3 L1604.6,129.2" stroke="#ee4a10"/>
<path d="M1604.6,129.2 L1591.6,120.0" stroke="#111111"/>
<path d="M1617.6,138.3 L1617.6,124.9" stroke="#ee4a10"/>
<path d="M1617.6,124.9 L1617.6,111.5" stroke="#111111"/>
<path d="M1617.6,138.3 L1625.7,133.9" stroke="#ee4a10"/>
<path d="M1625.7,133.9 L1633.7,129.4" stroke="#111111"/>
<path d="M1617.6,138.3 L1613.5,145.0" stroke="#ee4a10"/>
<path d="M1613.5,145.0 L1609.5,151.7" stroke="#111111"/>
<path d="M1617.6,138.3 L1603.3,140.8" stroke="#ee4a10"/>
<path d="M1603.3,140.8 L1589.0,143.3" stroke="#111111"/>
<path d="M1617.6,138.3 L1633.7,142.6" stroke="#ee4a10"/>
<path d="M1633.7,142.6 L1649.8,146.8" stroke="#111111"/>
<path d="M1617.6,138.3 L1625.7,134.7" stroke="#ee4a10"/>
<path d="M1625.7,134.7 L1633.7,131.0" stroke="#111111"/>
<path d="M1617.6,138.3 L1613.8,137.2" stroke="#ee4a10"/>
<path d="M1613.8,137.2 L1610.0,136.0" stroke="#111111"/>
<path d="M1617.6,138.3 L1612.7,149.5" stroke="#ee4a10"/>
<path d="M1612.7,149.5 L1607.7,160.7" stroke="#111111"/>
<path d="M1617.6,138.3 L1625.7,152.7" stroke="#ee4a10"/>
<path d="M1625.7,152.7 L1633.7,167.0" stroke="#111111"/>
<path d="M1677.3,216.5 L1690.5,202.8" stroke="#ee4a10"/>
<path d="M1690.5,202.8 L1703.7,189.2" stroke="#111111"/>
<path d="M1677.3,216.5 L1696.5,212.5" stroke="#ee4a10"/>
<path d="M1696.5,212.5 L1715.8,208.5" stroke="#111111"/>
<path d="M1677.3,216.5 L1697.0,221.9" stroke="#ee4a10"/>
<path d="M1697.0,221.9 L1716.7,227.3" stroke="#111111"/>
<path d="M1677.3,216.5 L1687.2,219.2" stroke="#ee4a10"/>
<path d="M1687.2,219.2 L1697.0,222.0" stroke="#111111"/>
<path d="M1677.3,216.5 L1682.7,213.2" stroke="#ee4a10"/>
<path d="M1682.7,213.2 L1688.0,210.0" stroke="#111111"/>
<path d="M1677.3,216.5 L1659.8,211.2" stroke="#ee4a10"/>
<path d="M1659.8,211.2 L1642.4,205.8" stroke="#111111"/>
<path d="M1677.3,216.5 L1667.4,214.3" stroke="#ee4a10"/>
<path d="M1667.4,214.3 L1657.6,212.1" stroke="#111111"/>
<path d="M1677.3,216.5 L1671.9,224.6" stroke="#ee4a10"/>
<path d="M1671.9,224.6 L1666.5,232.7" stroke="#111111"/>
<path d="M1677.3,216.5 L1666.5,230.8" stroke="#ee4a10"/>
<path d="M1666.5,230.8 L1655.8,245.2" stroke="#111111"/>
<path d="M1677.3,216.5 L1662.1,226.8" stroke="#ee4a10"/>
<path d="M1662.1,226.8 L1646.9,237.1" stroke="#111111"/>
<path d="M1677.3,216.5 L1658.2,215.2" stroke="#ee4a10"/>
<path d="M1658.2,215.2 L1639.2,213.9" stroke="#111111"/>
<path d="M1781.1,298.3 L1781.5,284.2" stroke="#ee4a10"/>
<path d="M1781.5,284.2 L1782.0,270.1" stroke="#111111"/>
<path d="M1781.1,298.3 L1794.5,287.6" stroke="#ee4a10"/>
<path d="M1794.5,287.6 L1808.0,276.9" stroke="#111111"/>
<path d="M1781.1,298.3 L1796.8,299.5" stroke="#ee4a10"/>
<path d="M1796.8,299.5 L1812.5,300.6" stroke="#111111"/>
<path d="M1781.1,298.3 L1788.3,302.8" stroke="#ee4a10"/>
<path d="M1788.3,302.8 L1795.5,307.3" stroke="#111111"/>
<path d="M1781.1,298.3 L1776.5,294.1" stroke="#ee4a10"/>
<path d="M1776.5,294.1 L1772.0,290.0" stroke="#111111"/>
<path d="M1781.1,298.3 L1766.8,301.2" stroke="#ee4a10"/>
<path d="M1766.8,301.2 L1752.5,304.1" stroke="#111111"/>
<path d="M1781.1,298.3 L1773.9,291.6" stroke="#ee4a10"/>
<path d="M1773.9,291.6 L1766.8,284.9" stroke="#111111"/>
<path d="M1781.1,298.3 L1787.4,295.2" stroke="#ee4a10"/>
<path d="M1787.4,295.2 L1793.7,292.1" stroke="#111111"/>
<path d="M1781.1,298.3 L1788.3,306.8" stroke="#ee4a10"/>
<path d="M1788.3,306.8 L1795.5,315.3" stroke="#111111"/>
<path d="M1781.1,298.3 L1775.3,310.9" stroke="#ee4a10"/>
<path d="M1775.3,310.9 L1769.5,323.4" stroke="#111111"/>
<path d="M1708.5,14.8 L1692.2,22.9" stroke="#0a14f6"/>
<path d="M1692.2,22.9 L1675.8,30.9" stroke="#b8101a"/>
<path d="M1675.8,30.9 L1669.8,41.5" stroke="#b8101a"/>
<path d="M1669.8,41.5 L1663.7,52.0" stroke="#eea52c"/>
<path d="M1663.7,52.0 L1662.8,62.7" stroke="#eea52c"/>
<path d="M1662.8,62.7 L1661.9,73.4" stroke="#b8101a"/>
<path d="M1661.9,73.4 L1675.3,85.0" stroke="#b8101a"/>
<path d="M1675.3,85.0 L1688.8,96.5" stroke="#0a14f6"/>
<path d="M1708.5,14.8 L1722.6,26.2" stroke="#0a14f6"/>
<path d="M1722.6,26.2 L1736.7,37.6" stroke="#b8101a"/>
<path d="M1736.7,37.6 L1738.0,47.9" stroke="#b8101a"/>
<path d="M1738.0,47.9 L1739.3,58.2" stroke="#eea52c"/>
<path d="M1739.3,58.2 L1729.9,69.4" stroke="#eea52c"/>
<path d="M1729.9,69.4 L1720.6,80.6" stroke="#b8101a"/>
<path d="M1720.6,80.6 L1704.7,88.5" stroke="#b8101a"/>
<path d="M1704.7,88.5 L1688.8,96.5" stroke="#0a14f6"/>
<path d="M1688.8,96.5 L1684.5,104.2" stroke="#0a14f6"/>
<path d="M1684.5,104.2 L1680.2,111.9" stroke="#b8101a"/>
<path d="M1680.2,111.9 L1671.5,120.7" stroke="#b8101a"/>
<path d="M1671.5,120.7 L1662.8,129.4" stroke="#eea52c"/>
<path d="M1662.8,129.4 L1668.4,142.4" stroke="#eea52c"/>
<path d="M1668.4,142.4 L1674.0,155.3" stroke="#b8101a"/>
<path d="M1674.0,155.3 L1679.7,166.4" stroke="#3c0808"/>
<path d="M1679.7,166.4 L1685.4,177.4" stroke="#0a14f6"/>
<path d="M1688.8,96.5 L1691.9,108.7" stroke="#0a14f6"/>
<path d="M1691.9,108.7 L1695.0,120.9" stroke="#3c0808"/>
<path d="M1695.0,120.9 L1689.8,133.7" stroke="#b8101a"/>
<path d="M1689.8,133.7 L1684.7,146.4" stroke="#eea52c"/>
<path d="M1684.7,146.4 L1689.0,154.9" stroke="#eea52c"/>
<path d="M1689.0,154.9 L1693.2,163.4" stroke="#b8101a"/>
<path d="M1693.2,163.4 L1689.3,170.4" stroke="#b8101a"/>
<path d="M1689.3,170.4 L1685.4,177.4" stroke="#0a14f6"/>
<path d="M1685.4,177.4 L1672.0,189.8" stroke="#0a14f6"/>
<path d="M1672.0,189.8 L1658.5,202.2" stroke="#b8101a"/>
<path d="M1658.5,202.2 L1659.2,212.1" stroke="#b8101a"/>
<path d="M1659.2,212.1 L1660.0,222.0" stroke="#eea52c"/>
<path d="M1660.0,222.0 L1668.7,233.2" stroke="#eea52c"/>
<path d="M1668.7,233.2 L1677.3,244.3" stroke="#b8101a"/>
<path d="M1677.3,244.3 L1693.4,251.5" stroke="#b8101a"/>
<path d="M1693.4,251.5 L1709.5,258.6" stroke="#0a14f6"/>
<path d="M1685.4,177.4 L1702.0,184.2" stroke="#0a14f6"/>
<path d="M1702.0,184.2 L1718.5,191.0" stroke="#b8101a"/>
<path d="M1718.5,191.0 L1724.8,200.2" stroke="#b8101a"/>
<path d="M1724.8,200.2 L1731.0,209.4" stroke="#eea52c"/>
<path d="M1731.0,209.4 L1733.2,221.4" stroke="#eea52c"/>
<path d="M1733.2,221.4 L1735.5,233.5" stroke="#b8101a"/>
<path d="M1735.5,233.5 L1722.5,246.1" stroke="#b8101a"/>
<path d="M1722.5,246.1 L1709.5,258.6" stroke="#0a14f6"/>
<path d="M1709.5,258.6 L1707.5,269.8" stroke="#0a14f6"/>
<path d="M1707.5,269.8 L1705.5,280.9" stroke="#b8101a"/>
<path d="M1705.5,280.9 L1710.8,293.4" stroke="#b8101a"/>
<path d="M1710.8,293.4 L1716.2,305.9" stroke="#eea52c"/>
<path d="M1716.2,305.9 L1713.1,314.9" stroke="#eea52c"/>
<path d="M1713.1,314.9 L1710.0,323.8" stroke="#3c0808"/>
<path d="M1710.0,323.8 L1714.5,331.9" stroke="#3c0808"/>
<path d="M1714.5,331.9 L1718.9,339.9" stroke="#0a14f6"/>
<path d="M1709.5,258.6 L1717.2,268.6" stroke="#0a14f6"/>
<path d="M1717.2,268.6 L1724.8,278.6" stroke="#3c0808"/>
<path d="M1724.8,278.6 L1731.0,284.9" stroke="#3c0808"/>
<path d="M1731.0,284.9 L1737.3,291.2" stroke="#eea52c"/>
<path d="M1737.3,291.2 L1732.9,304.6" stroke="#eea52c"/>
<path d="M1732.9,304.6 L1728.5,318.0" stroke="#b8101a"/>
<path d="M1728.5,318.0 L1723.7,329.0" stroke="#b8101a"/>
<path d="M1723.7,329.0 L1718.9,339.9" stroke="#0a14f6"/>
<path d="M1663.7,52.0 L1671.1,51.0" stroke="#eea52c"/>
<path d="M1671.1,51.0 L1678.5,50.1" stroke="#3c4c4c"/>
<path d="M1739.3,58.2 L1740.4,54.2" stroke="#eea52c"/>
<path d="M1740.4,54.2 L1741.6,50.1" stroke="#111111"/>
<path d="M1662.8,129.4 L1648.2,129.4" stroke="#eea52c"/>
<path d="M1648.2,129.4 L1633.7,129.4" stroke="#111111"/>
<path d="M1684.7,146.4 L1667.2,146.6" stroke="#eea52c"/>
<path d="M1667.2,146.6 L1649.8,146.8" stroke="#111111"/>
<path d="M1731.0,209.4 L1723.4,208.9" stroke="#eea52c"/>
<path d="M1723.4,208.9 L1715.8,208.5" stroke="#111111"/>
<path d="M1660.0,222.0 L1658.8,217.1" stroke="#eea52c"/>
<path d="M1658.8,217.1 L1657.6,212.1" stroke="#111111"/>
<path d="M1737.3,291.2 L1748.9,290.9" stroke="#eea52c"/>
<path d="M1748.9,290.9 L1760.6,290.7" stroke="#111111"/>
<path d="M1716.2,305.9 L1734.3,305.0" stroke="#eea52c"/>
<path d="M1734.3,305.0 L1752.5,304.1" stroke="#111111"/>
<path d="M1690.6,30.9 L1678.5,50.1 L1680.3,69.4" stroke="#8c9c9c" fill="none"/>
<path d="M1690.6,30.9 L1697.7,43 L1695.5,61.8 L1680.3,69.4" stroke="#3c4c4c" fill="none"/>
<path d="M1741.6,50.1 L1753.2,43.9 L1756.4,52.8 L1750.5,77.0 L1742.0,83.7 L1732.2,73.4 Z" stroke="#111111" fill="none"/>
<path d="M1591.6,120.0 L1617.6,111.5 L1633.7,129.4 L1609.5,151.7 L1589.0,143.3 Z" stroke="#111111" fill="none"/>
<path d="M1649.8,146.8 L1633.7,131.0 L1610.0,136.0 L1607.7,160.7 L1633.7,167.0 Z" stroke="#111111" fill="none"/>
<path d="M1703.7,189.2 L1715.8,208.5 L1716.7,227.3 L1697.0,222.0 L1688.0,210.0 Z" stroke="#111111" fill="none"/>
<path d="M1642.4,205.8 L1657.6,212.1 L1666.5,232.7 L1655.8,245.2 L1646.9,237.1 L1639.2,213.9 Z" stroke="#111111" fill="none"/>
<path d="M1782.0,270.1 L1808.0,276.9 L1812.5,300.6 L1795.5,307.3 L1772.0,290.0 Z" stroke="#111111" fill="none"/>
<path d="M1752.5,304.1 L1766.8,284.9 L1793.7,292.1 L1795.5,315.3 L1769.5,323.4 Z" stroke="#111111" fill="none"/>
<path d="M1591.6,120 L1617.6,138.3 M1617.6,111.5 L1620,140 M1703.7,189.2 L1702,216 M1700,213 L1716,208.5 M1782,270.1 L1781,298 M1808,276.9 L1785,296" stroke="#111" fill="none"/></g>
<g transform="translate(10.40,325.10)"><path d="M1716.1,56.4 L1703.3,43.6" stroke="#ee4a10"/>
<path d="M1703.3,43.6 L1690.6,30.9" stroke="#3c4c4c"/>
<path d="M1716.1,56.4 L1706.9,49.7" stroke="#ee4a10"/>
<path d="M1706.9,49.7 L1697.7,43.0" stroke="#3c4c4c"/>
<path d="M1716.1,56.4 L1705.8,59.1" stroke="#ee4a10"/>
<path d="M1705.8,59.1 L1695.5,61.8" stroke="#3c4c4c"/>
<path d="M1716.1,56.4 L1698.2,62.9" stroke="#ee4a10"/>
<path d="M1698.2,62.9 L1680.3,69.4" stroke="#3c4c4c"/>
<path d="M1716.1,56.4 L1697.3,53.2" stroke="#ee4a10"/>
<path d="M1697.3,53.2 L1678.5,50.1" stroke="#3c4c4c"/>
<path d="M1716.1,56.4 L1728.8,53.2" stroke="#ee4a10"/>
<path d="M1728.8,53.2 L1741.6,50.1" stroke="#111111"/>
<path d="M1716.1,56.4 L1734.7,50.1" stroke="#ee4a10"/>
<path d="M1734.7,50.1 L1753.2,43.9" stroke="#111111"/>
<path d="M1716.1,56.4 L1736.2,54.6" stroke="#ee4a10"/>
<path d="M1736.2,54.6 L1756.4,52.8" stroke="#111111"/>
<path d="M1716.1,56.4 L1733.3,66.7" stroke="#ee4a10"/>
<path d="M1733.3,66.7 L1750.5,77.0" stroke="#111111"/>
<path d="M1716.1,56.4 L1729.0,70.0" stroke="#ee4a10"/>
<path d="M1729.0,70.0 L1742.0,83.7" stroke="#111111"/>
<path d="M1716.1,56.4 L1724.2,64.9" stroke="#ee4a10"/>
<path d="M1724.2,64.9 L1732.2,73.4" stroke="#111111"/>
<path d="M1617.6,138.3 L1604.6,129.2" stroke="#ee4a10"/>
<path d="M1604.6,129.2 L1591.6,120.0" stroke="#111111"/>
<path d="M1617.6,138.3 L1617.6,124.9" stroke="#ee4a10"/>
<path d="M1617.6,124.9 L1617.6,111.5" stroke="#111111"/>
<path d="M1617.6,138.3 L1625.7,133.9" stroke="#ee4a10"/>
<path d="M1625.7,133.9 L1633.7,129.4" stroke="#111111"/>
<path d="M1617.6,138.3 L1613.5,145.0" stroke="#ee4a10"/>
<path d="M1613.5,145.0 L1609.5,151.7" stroke="#111111"/>
<path d="M1617.6,138.3 L1603.3,140.8" stroke="#ee4a10"/>
<path d="M1603.3,140.8 L1589.0,143.3" stroke="#111111"/>
<path d="M1617.6,138.3 L1633.7,142.6" stroke="#ee4a10"/>
<path d="M1633.7,142.6 L1649.8,146.8" stroke="#111111"/>
<path d="M1617.6,138.3 L1625.7,134.7" stroke="#ee4a10"/>
<path d="M1625.7,134.7 L1633.7,131.0" stroke="#111111"/>
<path d="M1617.6,138.3 L1613.8,137.2" stroke="#ee4a10"/>
<path d="M1613.8,137.2 L1610.0,136.0" stroke="#111111"/>
<path d="M1617.6,138.3 L1612.7,149.5" stroke="#ee4a10"/>
<path d="M1612.7,149.5 L1607.7,160.7" stroke="#111111"/>
<path d="M1617.6,138.3 L1625.7,152.7" stroke="#ee4a10"/>
<path d="M1625.7,152.7 L1633.7,167.0" stroke="#111111"/>
<path d="M1677.3,216.5 L1690.5,202.8" stroke="#ee4a10"/>
<path d="M1690.5,202.8 L1703.7,189.2" stroke="#111111"/>
<path d="M1677.3,216.5 L1696.5,212.5" stroke="#ee4a10"/>
<path d="M1696.5,212.5 L1715.8,208.5" stroke="#111111"/>
<path d="M1677.3,216.5 L1697.0,221.9" stroke="#ee4a10"/>
<path d="M1697.0,221.9 L1716.7,227.3" stroke="#111111"/>
<path d="M1677.3,216.5 L1687.2,219.2" stroke="#ee4a10"/>
<path d="M1687.2,219.2 L1697.0,222.0" stroke="#111111"/>
<path d="M1677.3,216.5 L1682.7,213.2" stroke="#ee4a10"/>
<path d="M1682.7,213.2 L1688.0,210.0" stroke="#111111"/>
<path d="M1677.3,216.5 L1659.8,211.2" stroke="#ee4a10"/>
<path d="M1659.8,211.2 L1642.4,205.8" stroke="#111111"/>
<path d="M1677.3,216.5 L1667.4,214.3" stroke="#ee4a10"/>
<path d="M1667.4,214.3 L1657.6,212.1" stroke="#111111"/>
<path d="M1677.3,216.5 L1671.9,224.6" stroke="#ee4a10"/>
<path d="M1671.9,224.6 L1666.5,232.7" stroke="#111111"/>
<path d="M1677.3,216.5 L1666.5,230.8" stroke="#ee4a10"/>
<path d="M1666.5,230.8 L1655.8,245.2" stroke="#111111"/>
<path d="M1677.3,216.5 L1662.1,226.8" stroke="#ee4a10"/>
<path d="M1662.1,226.8 L1646.9,237.1" stroke="#111111"/>
<path d="M1677.3,216.5 L1658.2,215.2" stroke="#ee4a10"/>
<path d="M1658.2,215.2 L1639.2,213.9" stroke="#111111"/>
<path d="M1781.1,298.3 L1781.5,284.2" stroke="#ee4a10"/>
<path d="M1781.5,284.2 L1782.0,270.1" stroke="#111111"/>
<path d="M1781.1,298.3 L1794.5,287.6" stroke="#ee4a10"/>
<path d="M1794.5,287.6 L1808.0,276.9" stroke="#111111"/>
<path d="M1781.1,298.3 L1796.8,299.5" stroke="#ee4a10"/>
<path d="M1796.8,299.5 L1812.5,300.6" stroke="#111111"/>
<path d="M1781.1,298.3 L1788.3,302.8" stroke="#ee4a10"/>
<path d="M1788.3,302.8 L1795.5,307.3" stroke="#111111"/>
<path d="M1781.1,298.3 L1776.5,294.1" stroke="#ee4a10"/>
<path d="M1776.5,294.1 L1772.0,290.0" stroke="#111111"/>
<path d="M1781.1,298.3 L1766.8,301.2" stroke="#ee4a10"/>
<path d="M1766.8,301.2 L1752.5,304.1" stroke="#111111"/>
<path d="M1781.1,298.3 L1773.9,291.6" stroke="#ee4a10"/>
<path d="M1773.9,291.6 L1766.8,284.9" stroke="#111111"/>
<path d="M1781.1,298.3 L1787.4,295.2" stroke="#ee4a10"/>
<path d="M1787.4,295.2 L1793.7,292.1" stroke="#111111"/>
<path d="M1781.1,298.3 L1788.3,306.8" stroke="#ee4a10"/>
<path d="M1788.3,306.8 L1795.5,315.3" stroke="#111111"/>
<path d="M1781.1,298.3 L1775.3,310.9" stroke="#ee4a10"/>
<path d="M1775.3,310.9 L1769.5,323.4" stroke="#111111"/>
<path d="M1708.5,14.8 L1692.2,22.9" stroke="#0a14f6"/>
<path d="M1692.2,22.9 L1675.8,30.9" stroke="#b8101a"/>
<path d="M1675.8,30.9 L1669.8,41.5" stroke="#b8101a"/>
<path d="M1669.8,41.5 L1663.7,52.0" stroke="#eea52c"/>
<path d="M1663.7,52.0 L1662.8,62.7" stroke="#eea52c"/>
<path d="M1662.8,62.7 L1661.9,73.4" stroke="#b8101a"/>
<path d="M1661.9,73.4 L1675.3,85.0" stroke="#b8101a"/>
<path d="M1675.3,85.0 L1688.8,96.5" stroke="#0a14f6"/>
<path d="M1708.5,14.8 L1722.6,26.2" stroke="#0a14f6"/>
<path d="M1722.6,26.2 L1736.7,37.6" stroke="#b8101a"/>
<path d="M1736.7,37.6 L1738.0,47.9" stroke="#b8101a"/>
<path d="M1738.0,47.9 L1739.3,58.2" stroke="#eea52c"/>
<path d="M1739.3,58.2 L1729.9,69.4" stroke="#eea52c"/>
<path d="M1729.9,69.4 L1720.6,80.6" stroke="#b8101a"/>
<path d="M1720.6,80.6 L1704.7,88.5" stroke="#b8101a"/>
<path d="M1704.7,88.5 L1688.8,96.5" stroke="#0a14f6"/>
<path d="M1688.8,96.5 L1684.5,104.2" stroke="#0a14f6"/>
<path d="M1684.5,104.2 L1680.2,111.9" stroke="#b8101a"/>
<path d="M1680.2,111.9 L1671.5,120.7" stroke="#b8101a"/>
<path d="M1671.5,120.7 L1662.8,129.4" stroke="#eea52c"/>
<path d="M1662.8,129.4 L1668.4,142.4" stroke="#eea52c"/>
<path d="M1668.4,142.4 L1674.0,155.3" stroke="#b8101a"/>
<path d="M1674.0,155.3 L1679.7,166.4" stroke="#3c0808"/>
<path d="M1679.7,166.4 L1685.4,177.4" stroke="#0a14f6"/>
<path d="M1688.8,96.5 L1691.9,108.7" stroke="#0a14f6"/>
<path d="M1691.9,108.7 L1695.0,120.9" stroke="#3c0808"/>
<path d="M1695.0,120.9 L1689.8,133.7" stroke="#b8101a"/>
<path d="M1689.8,133.7 L1684.7,146.4" stroke="#eea52c"/>
<path d="M1684.7,146.4 L1689.0,154.9" stroke="#eea52c"/>
<path d="M1689.0,154.9 L1693.2,163.4" stroke="#b8101a"/>
<path d="M1693.2,163.4 L1689.3,170.4" stroke="#b8101a"/>
<path d="M1689.3,170.4 L1685.4,177.4" stroke="#0a14f6"/>
<path d="M1685.4,177.4 L1672.0,189.8" stroke="#0a14f6"/>
<path d="M1672.0,189.8 L1658.5,202.2" stroke="#b8101a"/>
<path d="M1658.5,202.2 L1659.2,212.1" stroke="#b8101a"/>
<path d="M1659.2,212.1 L1660.0,222.0" stroke="#eea52c"/>
<path d="M1660.0,222.0 L1668.7,233.2" stroke="#eea52c"/>
<path d="M1668.7,233.2 L1677.3,244.3" stroke="#b8101a"/>
<path d="M1677.3,244.3 L1693.4,251.5" stroke="#b8101a"/>
<path d="M1693.4,251.5 L1709.5,258.6" stroke="#0a14f6"/>
<path d="M1685.4,177.4 L1702.0,184.2" stroke="#0a14f6"/>
<path d="M1702.0,184.2 L1718.5,191.0" stroke="#b8101a"/>
<path d="M1718.5,191.0 L1724.8,200.2" stroke="#b8101a"/>
<path d="M1724.8,200.2 L1731.0,209.4" stroke="#eea52c"/>
<path d="M1731.0,209.4 L1733.2,221.4" stroke="#eea52c"/>
<path d="M1733.2,221.4 L1735.5,233.5" stroke="#b8101a"/>
<path d="M1735.5,233.5 L1722.5,246.1" stroke="#b8101a"/>
<path d="M1722.5,246.1 L1709.5,258.6" stroke="#0a14f6"/>
<path d="M1709.5,258.6 L1707.5,269.8" stroke="#0a14f6"/>
<path d="M1707.5,269.8 L1705.5,280.9" stroke="#b8101a"/>
<path d="M1705.5,280.9 L1710.8,293.4" stroke="#b8101a"/>
<path d="M1710.8,293.4 L1716.2,305.9" stroke="#eea52c"/>
<path d="M1716.2,305.9 L1713.1,314.9" stroke="#eea52c"/>
<path d="M1713.1,314.9 L1710.0,323.8" stroke="#3c0808"/>
<path d="M1710.0,323.8 L1714.5,331.9" stroke="#3c0808"/>
<path d="M1714.5,331.9 L1718.9,339.9" stroke="#0a14f6"/>
<path d="M1709.5,258.6 L1717.2,268.6" stroke="#0a14f6"/>
<path d="M1717.2,268.6 L1724.8,278.6" stroke="#3c0808"/>
<path d="M1724.8,278.6 L1731.0,284.9" stroke="#3c0808"/>
<path d="M1731.0,284.9 L1737.3,291.2" stroke="#eea52c"/>
<path d="M1737.3,291.2 L1732.9,304.6" stroke="#eea52c"/>
<path d="M1732.9,304.6 L1728.5,318.0" stroke="#b8101a"/>
<path d="M1728.5,318.0 L1723.7,329.0" stroke="#b8101a"/>
<path d="M1723.7,329.0 L1718.9,339.9" stroke="#0a14f6"/>
<path d="M1663.7,52.0 L1671.1,51.0" stroke="#eea52c"/>
<path d="M1671.1,51.0 L1678.5,50.1" stroke="#3c4c4c"/>
<path d="M1739.3,58.2 L1740.4,54.2" stroke="#eea52c"/>
<path d="M1740.4,54.2 L1741.6,50.1" stroke="#111111"/>
<path d="M1662.8,129.4 L1648.2,129.4" stroke="#eea52c"/>
<path d="M1648.2,129.4 L1633.7,129.4" stroke="#111111"/>
<path d="M1684.7,146.4 L1667.2,146.6" stroke="#eea52c"/>
<path d="M1667.2,146.6 L1649.8,146.8" stroke="#111111"/>
<path d="M1731.0,209.4 L1723.4,208.9" stroke="#eea52c"/>
<path d="M1723.4,208.9 L1715.8,208.5" stroke="#111111"/>
<path d="M1660.0,222.0 L1658.8,217.1" stroke="#eea52c"/>
<path d="M1658.8,217.1 L1657.6,212.1" stroke="#111111"/>
<path d="M1737.3,291.2 L1748.9,290.9" stroke="#eea52c"/>
<path d="M1748.9,290.9 L1760.6,290.7" stroke="#111111"/>
<path d="M1716.2,305.9 L1734.3,305.0" stroke="#eea52c"/>
<path d="M1734.3,305.0 L1752.5,304.1" stroke="#111111"/>
<path d="M1690.6,30.9 L1678.5,50.1 L1680.3,69.4" stroke="#8c9c9c" fill="none"/>
<path d="M1690.6,30.9 L1697.7,43 L1695.5,61.8 L1680.3,69.4" stroke="#3c4c4c" fill="none"/>
<path d="M1741.6,50.1 L1753.2,43.9 L1756.4,52.8 L1750.5,77.0 L1742.0,83.7 L1732.2,73.4 Z" stroke="#111111" fill="none"/>
<path d="M1591.6,120.0 L1617.6,111.5 L1633.7,129.4 L1609.5,151.7 L1589.0,143.3 Z" stroke="#111111" fill="none"/>
<path d="M1649.8,146.8 L1633.7,131.0 L1610.0,136.0 L1607.7,160.7 L1633.7,167.0 Z" stroke="#111111" fill="none"/>
<path d="M1703.7,189.2 L1715.8,208.5 L1716.7,227.3 L1697.0,222.0 L1688.0,210.0 Z" stroke="#111111" fill="none"/>
<path d="M1642.4,205.8 L1657.6,212.1 L1666.5,232.7 L1655.8,245.2 L1646.9,237.1 L1639.2,213.9 Z" stroke="#111111" fill="none"/>
<path d="M1782.0,270.1 L1808.0,276.9 L1812.5,300.6 L1795.5,307.3 L1772.0,290.0 Z" stroke="#111111" fill="none"/>
<path d="M1752.5,304.1 L1766.8,284.9 L1793.7,292.1 L1795.5,315.3 L1769.5,323.4 Z" stroke="#111111" fill="none"/>
<path d="M1591.6,120 L1617.6,138.3 M1617.6,111.5 L1620,140 M1703.7,189.2 L1702,216 M1700,213 L1716,208.5 M1782,270.1 L1781,298 M1808,276.9 L1785,296" stroke="#111" fill="none"/></g>
<g transform="translate(20.80,650.20)"><path d="M1716.1,56.4 L1703.3,43.6" stroke="#ee4a10"/>
<path d="M1703.3,43.6 L1690.6,30.9" stroke="#3c4c4c"/>
<path d="M1716.1,56.4 L1706.9,49.7" stroke="#ee4a10"/>
<path d="M1706.9,49.7 L1697.7,43.0" stroke="#3c4c4c"/>
<path d="M1716.1,56.4 L1705.8,59.1" stroke="#ee4a10"/>
<path d="M1705.8,59.1 L1695.5,61.8" stroke="#3c4c4c"/>
<path d="M1716.1,56.4 L1698.2,62.9" stroke="#ee4a10"/>
<path d="M1698.2,62.9 L1680.3,69.4" stroke="#3c4c4c"/>
<path d="M1716.1,56.4 L1697.3,53.2" stroke="#ee4a10"/>
<path d="M1697.3,53.2 L1678.5,50.1" stroke="#3c4c4c"/>
<path d="M1716.1,56.4 L1728.8,53.2" stroke="#ee4a10"/>
<path d="M1728.8,53.2 L1741.6,50.1" stroke="#111111"/>
<path d="M1716.1,56.4 L1734.7,50.1" stroke="#ee4a10"/>
<path d="M1734.7,50.1 L1753.2,43.9" stroke="#111111"/>
<path d="M1716.1,56.4 L1736.2,54.6" stroke="#ee4a10"/>
<path d="M1736.2,54.6 L1756.4,52.8" stroke="#111111"/>
<path d="M1716.1,56.4 L1733.3,66.7" stroke="#ee4a10"/>
<path d="M1733.3,66.7 L1750.5,77.0" stroke="#111111"/>
<path d="M1716.1,56.4 L1729.0,70.0" stroke="#ee4a10"/>
<path d="M1729.0,70.0 L1742.0,83.7" stroke="#111111"/>
<path d="M1716.1,56.4 L1724.2,64.9" stroke="#ee4a10"/>
<path d="M1724.2,64.9 L1732.2,73.4" stroke="#111111"/>
<path d="M1617.6,138.3 L1604.6,129.2" stroke="#ee4a10"/>
<path d="M1604.6,129.2 L1591.6,120.0" stroke="#111111"/>
<path d="M1617.6,138.3 L1617.6,124.9" stroke="#ee4a10"/>
<path d="M1617.6,124.9 L1617.6,111.5" stroke="#111111"/>
<path d="M1617.6,138.3 L1625.7,133.9" stroke="#ee4a10"/>
<path d="M1625.7,133.9 L1633.7,129.4" stroke="#111111"/>
<path d="M1617.6,138.3 L1613.5,145.0" stroke="#ee4a10"/>
<path d="M1613.5,145.0 L1609.5,151.7" stroke="#111111"/>
<path d="M1617.6,138.3 L1603.3,140.8" stroke="#ee4a10"/>
<path d="M1603.3,140.8 L1589.0,143.3" stroke="#111111"/>
<path d="M1617.6,138.3 L1633.7,142.6" stroke="#ee4a10"/>
<path d="M1633.7,142.6 L1649.8,146.8" stroke="#111111"/>
<path d="M1617.6,138.3 L1625.7,134.7" stroke="#ee4a10"/>
<path d="M1625.7,134.7 L1633.7,131.0" stroke="#111111"/>
<path d="M1617.6,138.3 L1613.8,137.2" stroke="#ee4a10"/>
<path d="M1613.8,137.2 L1610.0,136.0" stroke="#111111"/>
<path d="M1617.6,138.3 L1612.7,149.5" stroke="#ee4a10"/>
<path d="M1612.7,149.5 L1607.7,160.7" stroke="#111111"/>
<path d="M1617.6,138.3 L1625.7,152.7" stroke="#ee4a10"/>
<path d="M1625.7,152.7 L1633.7,167.0" stroke="#111111"/>
<path d="M1677.3,216.5 L1690.5,202.8" stroke="#ee4a10"/>
<path d="M1690.5,202.8 L1703.7,189.2" stroke="#111111"/>
<path d="M1677.3,216.5 L1696.5,212.5" stroke="#ee4a10"/>
<path d="M1696.5,212.5 L1715.8,208.5" stroke="#111111"/>
<path d="M1677.3,216.5 L1697.0,221.9" stroke="#ee4a10"/>
<path d="M1697.0,221.9 L1716.7,227.3" stroke="#111111"/>
<path d="M1677.3,216.5 L1687.2,219.2" stroke="#ee4a10"/>
<path d="M1687.2,219.2 L1697.0,222.0" stroke="#111111"/>
<path d="M1677.3,216.5 L1682.7,213.2" stroke="#ee4a10"/>
<path d="M1682.7,213.2 L1688.0,210.0" stroke="#111111"/>
<path d="M1677.3,216.5 L1659.8,211.2" stroke="#ee4a10"/>
<path d="M1659.8,211.2 L1642.4,205.8" stroke="#111111"/>
<path d="M1677.3,216.5 L1667.4,214.3" stroke="#ee4a10"/>
<path d="M1667.4,214.3 L1657.6,212.1" stroke="#111111"/>
<path d="M1677.3,216.5 L1671.9,224.6" stroke="#ee4a10"/>
<path d="M1671.9,224.6 L1666.5,232.7" stroke="#111111"/>
<path d="M1677.3,216.5 L1666.5,230.8" stroke="#ee4a10"/>
<path d="M1666.5,230.8 L1655.8,245.2" stroke="#111111"/>
<path d="M1677.3,216.5 L1662.1,226.8" stroke="#ee4a10"/>
<path d="M1662.1,226.8 L1646.9,237.1" stroke="#111111"/>
<path d="M1677.3,216.5 L1658.2,215.2" stroke="#ee4a10"/>
<path d="M1658.2,215.2 L1639.2,213.9" stroke="#111111"/>
<path d="M1781.1,298.3 L1781.5,284.2" stroke="#ee4a10"/>
<path d="M1781.5,284.2 L1782.0,270.1" stroke="#111111"/>
<path d="M1781.1,298.3 L1794.5,287.6" stroke="#ee4a10"/>
<path d="M1794.5,287.6 L1808.0,276.9" stroke="#111111"/>
<path d="M1781.1,298.3 L1796.8,299.5" stroke="#ee4a10"/>
<path d="M1796.8,299.5 L1812.5,300.6" stroke="#111111"/>
<path d="M1781.1,298.3 L1788.3,302.8" stroke="#ee4a10"/>
<path d="M1788.3,302.8 L1795.5,307.3" stroke="#111111"/>
<path d="M1781.1,298.3 L1776.5,294.1" stroke="#ee4a10"/>
<path d="M1776.5,294.1 L1772.0,290.0" stroke="#111111"/>
<path d="M1781.1,298.3 L1766.8,301.2" stroke="#ee4a10"/>
<path d="M1766.8,301.2 L1752.5,304.1" stroke="#111111"/>
<path d="M1781.1,298.3 L1773.9,291.6" stroke="#ee4a10"/>
<path d="M1773.9,291.6 L1766.8,284.9" stroke="#111111"/>
<path d="M1781.1,298.3 L1787.4,295.2" stroke="#ee4a10"/>
<path d="M1787.4,295.2 L1793.7,292.1" stroke="#111111"/>
<path d="M1781.1,298.3 L1788.3,306.8" stroke="#ee4a10"/>
<path d="M1788.3,306.8 L1795.5,315.3" stroke="#111111"/>
<path d="M1781.1,298.3 L1775.3,310.9" stroke="#ee4a10"/>
<path d="M1775.3,310.9 L1769.5,323.4" stroke="#111111"/>
<path d="M1708.5,14.8 L1692.2,22.9" stroke="#0a14f6"/>
<path d="M1692.2,22.9 L1675.8,30.9" stroke="#b8101a"/>
<path d="M1675.8,30.9 L1669.8,41.5" stroke="#b8101a"/>
<path d="M1669.8,41.5 L1663.7,52.0" stroke="#eea52c"/>
<path d="M1663.7,52.0 L1662.8,62.7" stroke="#eea52c"/>
<path d="M1662.8,62.7 L1661.9,73.4" stroke="#b8101a"/>
<path d="M1661.9,73.4 L1675.3,85.0" stroke="#b8101a"/>
<path d="M1675.3,85.0 L1688.8,96.5" stroke="#0a14f6"/>
<path d="M1708.5,14.8 L1722.6,26.2" stroke="#0a14f6"/>
<path d="M1722.6,26.2 L1736.7,37.6" stroke="#b8101a"/>
<path d="M1736.7,37.6 L1738.0,47.9" stroke="#b8101a"/>
<path d="M1738.0,47.9 L1739.3,58.2" stroke="#eea52c"/>
<path d="M1739.3,58.2 L1729.9,69.4" stroke="#eea52c"/>
<path d="M1729.9,69.4 L1720.6,80.6" stroke="#b8101a"/>
<path d="M1720.6,80.6 L1704.7,88.5" stroke="#b8101a"/>
<path d="M1704.7,88.5 L1688.8,96.5" stroke="#0a14f6"/>
<path d="M1688.8,96.5 L1684.5,104.2" stroke="#0a14f6"/>
<path d="M1684.5,104.2 L1680.2,111.9" stroke="#b8101a"/>
<path d="M1680.2,111.9 L1671.5,120.7" stroke="#b8101a"/>
<path d="M1671.5,120.7 L1662.8,129.4" stroke="#eea52c"/>
<path d="M1662.8,129.4 L1668.4,142.4" stroke="#eea52c"/>
<path d="M1668.4,142.4 L1674.0,155.3" stroke="#b8101a"/>
<path d="M1674.0,155.3 L1679.7,166.4" stroke="#3c0808"/>
<path d="M1679.7,166.4 L1685.4,177.4" stroke="#0a14f6"/>
<path d="M1688.8,96.5 L1691.9,108.7" stroke="#0a14f6"/>
<path d="M1691.9,108.7 L1695.0,120.9" stroke="#3c0808"/>
<path d="M1695.0,120.9 L1689.8,133.7" stroke="#b8101a"/>
<path d="M1689.8,133.7 L1684.7,146.4" stroke="#eea52c"/>
<path d="M1684.7,146.4 L1689.0,154.9" stroke="#eea52c"/>
<path d="M1689.0,154.9 L1693.2,163.4" stroke="#b8101a"/>
<path d="M1693.2,163.4 L1689.3,170.4" stroke="#b8101a"/>
<path d="M1689.3,170.4 L1685.4,177.4" stroke="#0a14f6"/>
<path d="M1685.4,177.4 L1672.0,189.8" stroke="#0a14f6"/>
<path d="M1672.0,189.8 L1658.5,202.2" stroke="#b8101a"/>
<path d="M1658.5,202.2 L1659.2,212.1" stroke="#b8101a"/>
<path d="M1659.2,212.1 L1660.0,222.0" stroke="#eea52c"/>
<path d="M1660.0,222.0 L1668.7,233.2" stroke="#eea52c"/>
<path d="M1668.7,233.2 L1677.3,244.3" stroke="#b8101a"/>
<path d="M1677.3,244.3 L1693.4,251.5" stroke="#b8101a"/>
<path d="M1693.4,251.5 L1709.5,258.6" stroke="#0a14f6"/>
<path d="M1685.4,177.4 L1702.0,184.2" stroke="#0a14f6"/>
<path d="M1702.0,184.2 L1718.5,191.0" stroke="#b8101a"/>
<path d="M1718.5,191.0 L1724.8,200.2" stroke="#b8101a"/>
<path d="M1724.8,200.2 L1731.0,209.4" stroke="#eea52c"/>
<path d="M1731.0,209.4 L1733.2,221.4" stroke="#eea52c"/>
<path d="M1733.2,221.4 L1735.5,233.5" stroke="#b8101a"/>
<path d="M1735.5,233.5 L1722.5,246.1" stroke="#b8101a"/>
<path d="M1722.5,246.1 L1709.5,258.6" stroke="#0a14f6"/>
<path d="M1709.5,258.6 L1707.5,269.8" stroke="#0a14f6"/>
<path d="M1707.5,269.8 L1705.5,280.9" stroke="#b8101a"/>
<path d="M1705.5,280.9 L1710.8,293.4" stroke="#b8101a"/>
<path d="M1710.8,293.4 L1716.2,305.9" stroke="#eea52c"/>
<path d="M1716.2,305.9 L1713.1,314.9" stroke="#eea52c"/>
<path d="M1713.1,314.9 L1710.0,323.8" stroke="#3c0808"/>
<path d="M1710.0,323.8 L1714.5,331.9" stroke="#3c0808"/>
<path d="M1714.5,331.9 L1718.9,339.9" stroke="#0a14f6"/>
<path d="M1709.5,258.6 L1717.2,268.6" stroke="#0a14f6"/>
<path d="M1717.2,268.6 L1724.8,278.6" stroke="#3c0808"/>
<path d="M1724.8,278.6 L1731.0,284.9" stroke="#3c0808"/>
<path d="M1731.0,284.9 L1737.3,291.2" stroke="#eea52c"/>
<path d="M1737.3,291.2 L1732.9,304.6" stroke="#eea52c"/>
<path d="M1732.9,304.6 L1728.5,318.0" stroke="#b8101a"/>
<path d="M1728.5,318.0 L1723.7,329.0" stroke="#b8101a"/>
<path d="M1723.7,329.0 L1718.9,339.9" stroke="#0a14f6"/>
<path d="M1663.7,52.0 L1671.1,51.0" stroke="#eea52c"/>
<path d="M1671.1,51.0 L1678.5,50.1" stroke="#3c4c4c"/>
<path d="M1739.3,58.2 L1740.4,54.2" stroke="#eea52c"/>
<path d="M1740.4,54.2 L1741.6,50.1" stroke="#111111"/>
<path d="M1662.8,129.4 L1648.2,129.4" stroke="#eea52c"/>
<path d="M1648.2,129.4 L1633.7,129.4" stroke="#111111"/>
<path d="M1684.7,146.4 L1667.2,146.6" stroke="#eea52c"/>
<path d="M1667.2,146.6 L1649.8,146.8" stroke="#111111"/>
<path d="M1731.0,209.4 L1723.4,208.9" stroke="#eea52c"/>
<path d="M1723.4,208.9 L1715.8,208.5" stroke="#111111"/>
<path d="M1660.0,222.0 L1658.8,217.1" stroke="#eea52c"/>
<path d="M1658.8,217.1 L1657.6,212.1" stroke="#111111"/>
<path d="M1737.3,291.2 L1748.9,290.9" stroke="#eea52c"/>
<path d="M1748.9,290.9 L1760.6,290.7" stroke="#111111"/>
<path d="M1716.2,305.9 L1734.3,305.0" stroke="#eea52c"/>
<path d="M1734.3,305.0 L1752.5,304.1" stroke="#111111"/>
<path d="M1690.6,30.9 L1678.5,50.1 L1680.3,69.4" stroke="#8c9c9c" fill="none"/>
<path d="M1690.6,30.9 L1697.7,43 L1695.5,61.8 L1680.3,69.4" stroke="#3c4c4c" fill="none"/>
<path d="M1741.6,50.1 L1753.2,43.9 L1756.4,52.8 L1750.5,77.0 L1742.0,83.7 L1732.2,73.4 Z" stroke="#111111" fill="none"/>
<path d="M1591.6,120.0 L1617.6,111.5 L1633.7,129.4 L1609.5,151.7 L1589.0,143.3 Z" stroke="#111111" fill="none"/>
<path d="M1649.8,146.8 L1633.7,131.0 L1610.0,136.0 L1607.7,160.7 L1633.7,167.0 Z" stroke="#111111" fill="none"/>
<path d="M1703.7,189.2 L1715.8,208.5 L1716.7,227.3 L1697.0,222.0 L1688.0,210.0 Z" stroke="#111111" fill="none"/>
<path d="M1642.4,205.8 L1657.6,212.1 L1666.5,232.7 L1655.8,245.2 L1646.9,237.1 L1639.2,213.9 Z" stroke="#111111" fill="none"/>
<path d="M1782.0,270.1 L1808.0,276.9 L1812.5,300.6 L1795.5,307.3 L1772.0,290.0 Z" stroke="#111111" fill="none"/>
<path d="M1752.5,304.1 L1766.8,284.9 L1793.7,292.1 L1795.5,315.3 L1769.5,323.4 Z" stroke="#111111" fill="none"/>
<path d="M1591.6,120 L1617.6,138.3 M1617.6,111.5 L1620,140 M1703.7,189.2 L1702,216 M1700,213 L1716,208.5 M1782,270.1 L1781,298 M1808,276.9 L1785,296" stroke="#111" fill="none"/></g>
</g>
<path d="M1382.5,348.5 C1384.9,350.7 1389.9,358.0 1396.8,361.6 C1403.7,365.2 1414.7,369.4 1423.7,370.1 C1432.7,370.9 1442.4,369.0 1450.6,366.1 C1458.8,363.2 1466.9,357.9 1472.9,352.7 C1478.9,347.5 1483.2,341.1 1486.4,334.8 C1489.6,328.5 1491.3,318.3 1492.3,315.0" stroke="#2a52f6" stroke-width="8.5" fill="none" stroke-linecap="butt"/>
<path d="M1384.0,350.0 C1386.1,351.9 1391.5,358.4 1396.8,361.6 C1402.1,364.9 1412.8,368.2 1416.0,369.5" stroke="#000" stroke-width="3.6" fill="none" stroke-linecap="round"/>
<path d="M1484.0,338.0 C1484.8,336.2 1487.8,331.0 1489.0,327.0 C1490.2,323.0 1490.9,316.2 1491.3,314.0" stroke="#000" stroke-width="3.2" fill="none" stroke-linecap="round"/>
<path d="M1480.5,320.5 L1490,303 L1504.5,311 L1498.5,317.5 L1494,314.5 Z" fill="#2a52f6" stroke="#2a52f6" stroke-width="1.5" stroke-linejoin="round"/>
<path d="M1379,345.5 L1388,342.5 L1390,353.5 L1380.5,356 Z" fill="#2a52f6"/>
<path d="M1760.0,429.5 C1757.7,431.8 1752.4,439.6 1746.4,443.0 C1740.4,446.4 1731.5,449.4 1724.0,450.2 C1716.5,450.9 1709.8,450.3 1701.6,447.5 C1693.4,444.7 1682.2,438.6 1674.8,433.2 C1667.3,427.8 1660.9,421.5 1656.9,415.3 C1652.9,409.1 1652.0,399.2 1651.0,396.0" stroke="#2a52f6" stroke-width="8.5" fill="none" stroke-linecap="butt"/>
<path d="M1758.0,432.0 C1756.1,433.8 1751.6,440.1 1746.4,443.0 C1741.2,445.9 1730.2,448.4 1727.0,449.5" stroke="#000" stroke-width="3.6" fill="none" stroke-linecap="round"/>
<path d="M1657.0,420.0 C1656.2,417.5 1653.5,409.7 1652.5,405.0 C1651.5,400.3 1651.4,394.2 1651.2,392.0" stroke="#000" stroke-width="3.2" fill="none" stroke-linecap="round"/>
<path d="M1639,392.5 L1652.4,383.5 L1662,400 L1655,398.5 L1651,394 Z" fill="#2a52f6" stroke="#2a52f6" stroke-width="1.5" stroke-linejoin="round"/>
<path d="M1756.5,425.5 L1765,430.5 L1759.5,437.5 L1752.5,432 Z" fill="#2a52f6"/>
<text transform="translate(1339.51,131.90) scale(0.9625,1)" font-size="31.88" fill="#000" font-family="'Liberation Sans', Arial, sans-serif" font-weight="bold" font-style="normal"><tspan font-family="'Liberation Sans', Arial, sans-serif" font-weight="bold" font-style="normal">P4</tspan><tspan font-family="'Liberation Sans', Arial, sans-serif" font-weight="bold" font-style="normal" font-size="20.41" dy="2.39">1</tspan><tspan font-family="'Liberation Sans', Arial, sans-serif" font-weight="bold" font-style="normal" dy="-2.39">2</tspan></text>
<text transform="translate(1729.01,135.20) scale(0.9629,1)" font-size="31.74" fill="#000" font-family="'Liberation Sans', Arial, sans-serif" font-weight="bold" font-style="normal"><tspan font-family="'Liberation Sans', Arial, sans-serif" font-weight="bold" font-style="normal">P4</tspan><tspan font-family="'Liberation Sans', Arial, sans-serif" font-weight="bold" font-style="normal" font-size="20.31" dy="2.38">3</tspan><tspan font-family="'Liberation Sans', Arial, sans-serif" font-weight="bold" font-style="normal" dy="-2.38">22</tspan></text>
</svg>
</body></html>
